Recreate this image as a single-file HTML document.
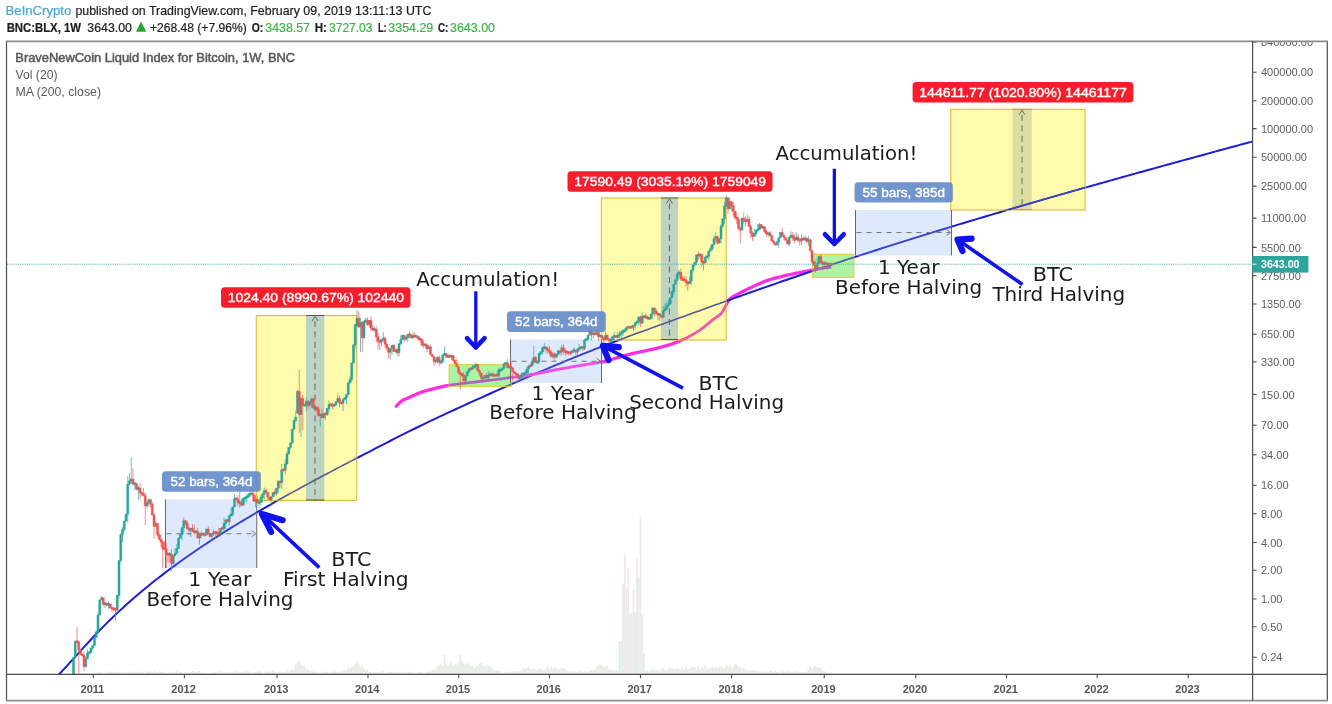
<!DOCTYPE html>
<html lang="en"><head><meta charset="utf-8"><title>BNC:BLX 1W - BeInCrypto on TradingView</title>
<style>
html,body{margin:0;padding:0;background:#fff;}
body{width:1332px;height:704px;overflow:hidden;position:relative;font-family:"Liberation Sans",sans-serif;}
svg{position:absolute;left:0;top:0;display:block;}
.hd{font-family:"Liberation Sans",sans-serif;font-size:11.9px;fill:#1e1e1e;stroke:#1e1e1e;stroke-width:0.2px;}
.b{font-weight:bold;}
.g{fill:#3fb44a;stroke:#3fb44a;}
.ax{font-family:"Liberation Sans",sans-serif;font-size:11px;fill:#5d5d5d;}
.yr{font-family:"Liberation Sans",sans-serif;font-size:11px;font-weight:bold;fill:#555;text-anchor:middle;}
.lg{font-family:"Liberation Sans",sans-serif;font-size:12px;fill:#5a5a5a;}
.an{font-family:"DejaVu Sans","Liberation Sans",sans-serif;font-size:19.7px;fill:#1c1c1c;}
.lb{font-family:"Liberation Sans",sans-serif;font-size:12.5px;fill:#fff;stroke:#fff;stroke-width:0.38px;}
</style></head><body>
<svg width="1332" height="704" viewBox="0 0 1332 704">
<rect x="0" y="0" width="1332" height="704" fill="#ffffff"/>
<text x="5.6" y="14.5" class="hd" textLength="65.7" lengthAdjust="spacingAndGlyphs" style="fill:#4aa6d6;stroke:#4aa6d6">BeInCrypto</text>
<text x="75.4" y="14.5" class="hd" textLength="356" lengthAdjust="spacingAndGlyphs">published on TradingView.com, February 09, 2019 13:11:13 UTC</text>
<text x="6.7" y="31.6" class="hd b" textLength="74.3" lengthAdjust="spacingAndGlyphs">BNC:BLX, 1W</text>
<text x="87.3" y="31.6" class="hd" textLength="44.6" lengthAdjust="spacingAndGlyphs">3643.00</text>
<path d="M136 31.8 L141 21.6 L146.2 31.8 Z" fill="#22a52e"/>
<text x="150" y="31.6" class="hd" textLength="96.7" lengthAdjust="spacingAndGlyphs">+268.48 (+7.96%)</text>
<text x="251.7" y="31.6" class="hd b" textLength="11.6" lengthAdjust="spacingAndGlyphs">O:</text>
<text x="265.3" y="31.6" class="hd g" textLength="44.7" lengthAdjust="spacingAndGlyphs">3438.57</text>
<text x="314.7" y="31.6" class="hd b" textLength="12.2" lengthAdjust="spacingAndGlyphs">H:</text>
<text x="329" y="31.6" class="hd g" textLength="43.5" lengthAdjust="spacingAndGlyphs">3727.03</text>
<text x="378" y="31.6" class="hd b" textLength="8.7" lengthAdjust="spacingAndGlyphs">L:</text>
<text x="388.3" y="31.6" class="hd g" textLength="45" lengthAdjust="spacingAndGlyphs">3354.29</text>
<text x="438" y="31.6" class="hd b" textLength="10.3" lengthAdjust="spacingAndGlyphs">C:</text>
<text x="450" y="31.6" class="hd g" textLength="45" lengthAdjust="spacingAndGlyphs">3643.00</text>
<defs><clipPath id="plot"><rect x="7" y="42" width="1245" height="632"/></clipPath>
<clipPath id="inbox">
<rect x="256.25" y="315.5" width="100.5" height="185"/>
<rect x="601.35" y="198" width="124.9" height="142"/>
<rect x="950.75" y="109.3" width="134.25" height="100.7"/>
<rect x="449.25" y="364.75" width="61.75" height="21.5"/>
<rect x="812.4" y="254.3" width="41.35" height="23"/>
</clipPath>
<clipPath id="inblue">
<rect x="165.5" y="499.5" width="91.25" height="68.5"/>
<rect x="510.5" y="339.5" width="91" height="43.5"/>
<rect x="855.5" y="210" width="96" height="45.5"/>
</clipPath></defs>
<g clip-path="url(#plot)">
<rect x="69.13" y="673.4" width="1.75" height="0.6" fill="#e3eee9"/>
<rect x="70.88" y="673.4" width="1.75" height="0.6" fill="#e3eee9"/>
<rect x="72.63" y="673.4" width="1.75" height="0.6" fill="#f1e6e6"/>
<rect x="74.38" y="673.4" width="1.75" height="0.6" fill="#e3eee9"/>
<rect x="76.13" y="673.4" width="1.75" height="0.6" fill="#f1e6e6"/>
<rect x="77.88" y="673.4" width="1.75" height="0.6" fill="#e3eee9"/>
<rect x="79.63" y="673.4" width="1.75" height="0.6" fill="#e3eee9"/>
<rect x="81.38" y="673.4" width="1.75" height="0.6" fill="#f1e6e6"/>
<rect x="83.13" y="673.4" width="1.75" height="0.6" fill="#e3eee9"/>
<rect x="84.88" y="673.4" width="1.75" height="0.6" fill="#f1e6e6"/>
<rect x="86.63" y="673.4" width="1.75" height="0.6" fill="#e3eee9"/>
<rect x="88.38" y="673.4" width="1.75" height="0.6" fill="#e3eee9"/>
<rect x="90.13" y="673.4" width="1.75" height="0.6" fill="#f1e6e6"/>
<rect x="91.88" y="673.4" width="1.75" height="0.6" fill="#e3eee9"/>
<rect x="93.63" y="673.4" width="1.75" height="0.6" fill="#f1e6e6"/>
<rect x="95.38" y="672.58" width="1.75" height="1.42" fill="#e3eee9"/>
<rect x="97.13" y="672.24" width="1.75" height="1.76" fill="#e3eee9"/>
<rect x="98.88" y="672.08" width="1.75" height="1.92" fill="#f1e6e6"/>
<rect x="100.63" y="672.7" width="1.75" height="1.3" fill="#e3eee9"/>
<rect x="102.38" y="672.78" width="1.75" height="1.22" fill="#f1e6e6"/>
<rect x="104.13" y="672.96" width="1.75" height="1.04" fill="#e3eee9"/>
<rect x="105.88" y="671.81" width="1.75" height="2.19" fill="#e3eee9"/>
<rect x="107.63" y="672.8" width="1.75" height="1.2" fill="#f1e6e6"/>
<rect x="109.38" y="671.3" width="1.75" height="2.7" fill="#e3eee9"/>
<rect x="111.13" y="671.99" width="1.75" height="2.01" fill="#f1e6e6"/>
<rect x="112.88" y="671.86" width="1.75" height="2.14" fill="#e3eee9"/>
<rect x="114.63" y="671.7" width="1.75" height="2.3" fill="#e3eee9"/>
<rect x="116.38" y="672.84" width="1.75" height="1.16" fill="#f1e6e6"/>
<rect x="118.13" y="672.04" width="1.75" height="1.96" fill="#e3eee9"/>
<rect x="119.88" y="672.45" width="1.75" height="1.55" fill="#f1e6e6"/>
<rect x="121.63" y="671.92" width="1.75" height="2.08" fill="#e3eee9"/>
<rect x="123.38" y="672.38" width="1.75" height="1.62" fill="#e3eee9"/>
<rect x="125.13" y="672.9" width="1.75" height="1.1" fill="#f1e6e6"/>
<rect x="126.88" y="671.79" width="1.75" height="2.21" fill="#e3eee9"/>
<rect x="128.63" y="672.22" width="1.75" height="1.78" fill="#f1e6e6"/>
<rect x="130.38" y="672.27" width="1.75" height="1.73" fill="#e3eee9"/>
<rect x="132.13" y="671.28" width="1.75" height="2.72" fill="#e3eee9"/>
<rect x="133.88" y="672.35" width="1.75" height="1.65" fill="#f1e6e6"/>
<rect x="135.63" y="671.58" width="1.75" height="2.42" fill="#e3eee9"/>
<rect x="137.38" y="671.88" width="1.75" height="2.12" fill="#f1e6e6"/>
<rect x="139.13" y="671.76" width="1.75" height="2.24" fill="#e3eee9"/>
<rect x="140.88" y="671.89" width="1.75" height="2.11" fill="#e3eee9"/>
<rect x="142.63" y="672.56" width="1.75" height="1.44" fill="#f1e6e6"/>
<rect x="144.38" y="672.63" width="1.75" height="1.37" fill="#e3eee9"/>
<rect x="146.13" y="671.49" width="1.75" height="2.51" fill="#f1e6e6"/>
<rect x="147.88" y="671.64" width="1.75" height="2.36" fill="#e3eee9"/>
<rect x="149.63" y="671.58" width="1.75" height="2.42" fill="#e3eee9"/>
<rect x="151.38" y="671.92" width="1.75" height="2.08" fill="#f1e6e6"/>
<rect x="153.13" y="670.89" width="1.75" height="3.11" fill="#e3eee9"/>
<rect x="154.88" y="671.88" width="1.75" height="2.12" fill="#f1e6e6"/>
<rect x="156.63" y="672.57" width="1.75" height="1.43" fill="#e3eee9"/>
<rect x="158.38" y="671.21" width="1.75" height="2.79" fill="#e3eee9"/>
<rect x="160.13" y="671.76" width="1.75" height="2.24" fill="#f1e6e6"/>
<rect x="161.88" y="672.03" width="1.75" height="1.97" fill="#e3eee9"/>
<rect x="163.63" y="672.79" width="1.75" height="1.21" fill="#f1e6e6"/>
<rect x="165.38" y="672.81" width="1.75" height="1.19" fill="#e3eee9"/>
<rect x="167.13" y="672.53" width="1.75" height="1.47" fill="#e3eee9"/>
<rect x="168.88" y="672.77" width="1.75" height="1.23" fill="#f1e6e6"/>
<rect x="170.63" y="671.84" width="1.75" height="2.16" fill="#e3eee9"/>
<rect x="172.38" y="672.7" width="1.75" height="1.3" fill="#f1e6e6"/>
<rect x="174.13" y="671.52" width="1.75" height="2.48" fill="#e3eee9"/>
<rect x="175.88" y="671.03" width="1.75" height="2.97" fill="#e3eee9"/>
<rect x="177.63" y="672.42" width="1.75" height="1.58" fill="#f1e6e6"/>
<rect x="179.38" y="671.89" width="1.75" height="2.11" fill="#e3eee9"/>
<rect x="181.13" y="671.74" width="1.75" height="2.26" fill="#f1e6e6"/>
<rect x="182.88" y="672.72" width="1.75" height="1.28" fill="#e3eee9"/>
<rect x="184.63" y="672.44" width="1.75" height="1.56" fill="#e3eee9"/>
<rect x="186.38" y="672.11" width="1.75" height="1.89" fill="#f1e6e6"/>
<rect x="188.13" y="672.84" width="1.75" height="1.16" fill="#e3eee9"/>
<rect x="189.88" y="672.15" width="1.75" height="1.85" fill="#f1e6e6"/>
<rect x="191.63" y="671.02" width="1.75" height="2.98" fill="#e3eee9"/>
<rect x="193.38" y="671.86" width="1.75" height="2.14" fill="#e3eee9"/>
<rect x="195.13" y="672.23" width="1.75" height="1.77" fill="#f1e6e6"/>
<rect x="196.88" y="670.99" width="1.75" height="3.01" fill="#e3eee9"/>
<rect x="198.63" y="671.01" width="1.75" height="2.99" fill="#f1e6e6"/>
<rect x="200.38" y="672.26" width="1.75" height="1.74" fill="#e3eee9"/>
<rect x="202.13" y="672.54" width="1.75" height="1.46" fill="#e3eee9"/>
<rect x="203.88" y="672.98" width="1.75" height="1.02" fill="#f1e6e6"/>
<rect x="205.63" y="672.72" width="1.75" height="1.28" fill="#e3eee9"/>
<rect x="207.38" y="672.65" width="1.75" height="1.35" fill="#f1e6e6"/>
<rect x="209.13" y="673.01" width="1.75" height="0.99" fill="#e3eee9"/>
<rect x="210.88" y="672.73" width="1.75" height="1.27" fill="#e3eee9"/>
<rect x="212.63" y="672.53" width="1.75" height="1.47" fill="#f1e6e6"/>
<rect x="214.38" y="672.2" width="1.75" height="1.8" fill="#e3eee9"/>
<rect x="216.13" y="672.52" width="1.75" height="1.48" fill="#f1e6e6"/>
<rect x="217.88" y="672.55" width="1.75" height="1.45" fill="#e3eee9"/>
<rect x="219.63" y="670.81" width="1.75" height="3.19" fill="#e3eee9"/>
<rect x="221.38" y="672.07" width="1.75" height="1.93" fill="#f1e6e6"/>
<rect x="223.13" y="672.93" width="1.75" height="1.07" fill="#e3eee9"/>
<rect x="224.88" y="672.46" width="1.75" height="1.54" fill="#f1e6e6"/>
<rect x="226.63" y="671.9" width="1.75" height="2.1" fill="#e3eee9"/>
<rect x="228.38" y="672.48" width="1.75" height="1.52" fill="#e3eee9"/>
<rect x="230.13" y="672.32" width="1.75" height="1.68" fill="#f1e6e6"/>
<rect x="231.88" y="672.42" width="1.75" height="1.58" fill="#e3eee9"/>
<rect x="233.63" y="671.47" width="1.75" height="2.53" fill="#f1e6e6"/>
<rect x="235.38" y="671.17" width="1.75" height="2.83" fill="#e3eee9"/>
<rect x="237.13" y="672.49" width="1.75" height="1.51" fill="#e3eee9"/>
<rect x="238.88" y="672.33" width="1.75" height="1.67" fill="#f1e6e6"/>
<rect x="240.63" y="671.66" width="1.75" height="2.34" fill="#e3eee9"/>
<rect x="242.38" y="672.51" width="1.75" height="1.49" fill="#f1e6e6"/>
<rect x="244.13" y="670.9" width="1.75" height="3.1" fill="#e3eee9"/>
<rect x="245.88" y="671.04" width="1.75" height="2.96" fill="#e3eee9"/>
<rect x="247.63" y="671.19" width="1.75" height="2.81" fill="#f1e6e6"/>
<rect x="249.38" y="672.42" width="1.75" height="1.58" fill="#e3eee9"/>
<rect x="251.13" y="672.65" width="1.75" height="1.35" fill="#f1e6e6"/>
<rect x="252.88" y="672.89" width="1.75" height="1.11" fill="#e3eee9"/>
<rect x="254.63" y="672.23" width="1.75" height="1.77" fill="#e3eee9"/>
<rect x="256.38" y="671.34" width="1.75" height="2.66" fill="#f1e6e6"/>
<rect x="258.13" y="670.64" width="1.75" height="3.36" fill="#e3eee9"/>
<rect x="259.88" y="671.46" width="1.75" height="2.54" fill="#f1e6e6"/>
<rect x="261.63" y="672.66" width="1.75" height="1.34" fill="#e3eee9"/>
<rect x="263.38" y="672.71" width="1.75" height="1.29" fill="#e3eee9"/>
<rect x="265.13" y="671.36" width="1.75" height="2.64" fill="#f1e6e6"/>
<rect x="266.88" y="671.48" width="1.75" height="2.52" fill="#e3eee9"/>
<rect x="268.63" y="671.42" width="1.75" height="2.58" fill="#f1e6e6"/>
<rect x="270.38" y="672.56" width="1.75" height="1.44" fill="#e3eee9"/>
<rect x="272.13" y="670.97" width="1.75" height="3.03" fill="#e3eee9"/>
<rect x="273.88" y="671.63" width="1.75" height="2.37" fill="#f1e6e6"/>
<rect x="275.63" y="672.3" width="1.75" height="1.7" fill="#e3eee9"/>
<rect x="277.38" y="672.01" width="1.75" height="1.99" fill="#f1e6e6"/>
<rect x="279.13" y="671.39" width="1.75" height="2.61" fill="#e3eee9"/>
<rect x="280.88" y="671.73" width="1.75" height="2.27" fill="#e3eee9"/>
<rect x="282.63" y="672" width="1.75" height="2" fill="#f1e6e6"/>
<rect x="284.38" y="672.75" width="1.75" height="1.25" fill="#e3eee9"/>
<rect x="286.13" y="670.62" width="1.75" height="3.38" fill="#f1e6e6"/>
<rect x="287.88" y="671.54" width="1.75" height="2.46" fill="#e3eee9"/>
<rect x="289.63" y="669.47" width="1.75" height="4.53" fill="#e3eee9"/>
<rect x="291.38" y="669.49" width="1.75" height="4.51" fill="#f1e6e6"/>
<rect x="293.13" y="669.66" width="1.75" height="4.34" fill="#e3eee9"/>
<rect x="294.88" y="664.35" width="1.75" height="9.65" fill="#f1e6e6"/>
<rect x="296.63" y="661.87" width="1.75" height="12.13" fill="#e3eee9"/>
<rect x="298.38" y="661.2" width="1.75" height="12.8" fill="#e3eee9"/>
<rect x="300.13" y="664.3" width="1.75" height="9.7" fill="#f1e6e6"/>
<rect x="301.88" y="665.65" width="1.75" height="8.35" fill="#e3eee9"/>
<rect x="303.63" y="666.14" width="1.75" height="7.86" fill="#f1e6e6"/>
<rect x="305.38" y="668.56" width="1.75" height="5.44" fill="#e3eee9"/>
<rect x="307.13" y="669.36" width="1.75" height="4.64" fill="#e3eee9"/>
<rect x="308.88" y="671" width="1.75" height="3" fill="#f1e6e6"/>
<rect x="310.63" y="670.71" width="1.75" height="3.29" fill="#e3eee9"/>
<rect x="312.38" y="671.43" width="1.75" height="2.57" fill="#f1e6e6"/>
<rect x="314.13" y="671.87" width="1.75" height="2.13" fill="#e3eee9"/>
<rect x="315.88" y="672.43" width="1.75" height="1.57" fill="#e3eee9"/>
<rect x="317.63" y="672.39" width="1.75" height="1.61" fill="#f1e6e6"/>
<rect x="319.38" y="672.61" width="1.75" height="1.39" fill="#e3eee9"/>
<rect x="321.13" y="672.54" width="1.75" height="1.46" fill="#f1e6e6"/>
<rect x="322.88" y="671.57" width="1.75" height="2.43" fill="#e3eee9"/>
<rect x="324.63" y="672.26" width="1.75" height="1.74" fill="#e3eee9"/>
<rect x="326.38" y="671.61" width="1.75" height="2.39" fill="#f1e6e6"/>
<rect x="328.13" y="672.59" width="1.75" height="1.41" fill="#e3eee9"/>
<rect x="329.88" y="672.58" width="1.75" height="1.42" fill="#f1e6e6"/>
<rect x="331.63" y="671.55" width="1.75" height="2.45" fill="#e3eee9"/>
<rect x="333.38" y="671.62" width="1.75" height="2.38" fill="#e3eee9"/>
<rect x="335.13" y="671.4" width="1.75" height="2.6" fill="#f1e6e6"/>
<rect x="336.88" y="671.77" width="1.75" height="2.23" fill="#e3eee9"/>
<rect x="338.63" y="671.66" width="1.75" height="2.34" fill="#f1e6e6"/>
<rect x="340.38" y="671.77" width="1.75" height="2.23" fill="#e3eee9"/>
<rect x="342.13" y="670.9" width="1.75" height="3.1" fill="#e3eee9"/>
<rect x="343.88" y="669.93" width="1.75" height="4.07" fill="#f1e6e6"/>
<rect x="345.63" y="669.9" width="1.75" height="4.1" fill="#e3eee9"/>
<rect x="347.38" y="667.62" width="1.75" height="6.38" fill="#f1e6e6"/>
<rect x="349.13" y="668.19" width="1.75" height="5.81" fill="#e3eee9"/>
<rect x="350.88" y="666.79" width="1.75" height="7.21" fill="#e3eee9"/>
<rect x="352.63" y="666.54" width="1.75" height="7.46" fill="#f1e6e6"/>
<rect x="354.38" y="663.97" width="1.75" height="10.03" fill="#e3eee9"/>
<rect x="356.13" y="661.62" width="1.75" height="12.38" fill="#f1e6e6"/>
<rect x="357.88" y="664.52" width="1.75" height="9.48" fill="#e3eee9"/>
<rect x="359.63" y="667.36" width="1.75" height="6.64" fill="#e3eee9"/>
<rect x="361.38" y="665.42" width="1.75" height="8.58" fill="#f1e6e6"/>
<rect x="363.13" y="668.49" width="1.75" height="5.51" fill="#e3eee9"/>
<rect x="364.88" y="670.37" width="1.75" height="3.63" fill="#f1e6e6"/>
<rect x="366.63" y="669.57" width="1.75" height="4.43" fill="#e3eee9"/>
<rect x="368.38" y="672.09" width="1.75" height="1.91" fill="#e3eee9"/>
<rect x="370.13" y="671.92" width="1.75" height="2.08" fill="#f1e6e6"/>
<rect x="371.88" y="672.53" width="1.75" height="1.47" fill="#e3eee9"/>
<rect x="373.63" y="672.18" width="1.75" height="1.82" fill="#f1e6e6"/>
<rect x="375.38" y="671.96" width="1.75" height="2.04" fill="#e3eee9"/>
<rect x="377.13" y="672.87" width="1.75" height="1.13" fill="#e3eee9"/>
<rect x="378.88" y="671.79" width="1.75" height="2.21" fill="#f1e6e6"/>
<rect x="380.63" y="672.38" width="1.75" height="1.62" fill="#e3eee9"/>
<rect x="382.38" y="670.96" width="1.75" height="3.04" fill="#f1e6e6"/>
<rect x="384.13" y="672.79" width="1.75" height="1.21" fill="#e3eee9"/>
<rect x="385.88" y="672.56" width="1.75" height="1.44" fill="#e3eee9"/>
<rect x="387.63" y="672.67" width="1.75" height="1.33" fill="#f1e6e6"/>
<rect x="389.38" y="671.74" width="1.75" height="2.26" fill="#e3eee9"/>
<rect x="391.13" y="671.79" width="1.75" height="2.21" fill="#f1e6e6"/>
<rect x="392.88" y="672.26" width="1.75" height="1.74" fill="#e3eee9"/>
<rect x="394.63" y="671.68" width="1.75" height="2.32" fill="#e3eee9"/>
<rect x="396.38" y="672.95" width="1.75" height="1.05" fill="#f1e6e6"/>
<rect x="398.13" y="671.78" width="1.75" height="2.22" fill="#e3eee9"/>
<rect x="399.88" y="672.4" width="1.75" height="1.6" fill="#f1e6e6"/>
<rect x="401.63" y="671.45" width="1.75" height="2.55" fill="#e3eee9"/>
<rect x="403.38" y="672.43" width="1.75" height="1.57" fill="#e3eee9"/>
<rect x="405.13" y="672.46" width="1.75" height="1.54" fill="#f1e6e6"/>
<rect x="406.88" y="672.23" width="1.75" height="1.77" fill="#e3eee9"/>
<rect x="408.63" y="671.47" width="1.75" height="2.53" fill="#f1e6e6"/>
<rect x="410.38" y="672.67" width="1.75" height="1.33" fill="#e3eee9"/>
<rect x="412.13" y="672.22" width="1.75" height="1.78" fill="#e3eee9"/>
<rect x="413.88" y="672.86" width="1.75" height="1.14" fill="#f1e6e6"/>
<rect x="415.63" y="672.91" width="1.75" height="1.09" fill="#e3eee9"/>
<rect x="417.38" y="672.46" width="1.75" height="1.54" fill="#f1e6e6"/>
<rect x="419.13" y="671.83" width="1.75" height="2.17" fill="#e3eee9"/>
<rect x="420.88" y="672.3" width="1.75" height="1.7" fill="#e3eee9"/>
<rect x="422.63" y="672.61" width="1.75" height="1.39" fill="#f1e6e6"/>
<rect x="424.38" y="672.68" width="1.75" height="1.32" fill="#e3eee9"/>
<rect x="426.13" y="671.28" width="1.75" height="2.72" fill="#f1e6e6"/>
<rect x="427.88" y="672.01" width="1.75" height="1.99" fill="#e3eee9"/>
<rect x="429.63" y="671.13" width="1.75" height="2.87" fill="#e3eee9"/>
<rect x="431.38" y="670.21" width="1.75" height="3.79" fill="#f1e6e6"/>
<rect x="433.13" y="669.16" width="1.75" height="4.84" fill="#e3eee9"/>
<rect x="434.88" y="669.07" width="1.75" height="4.93" fill="#f1e6e6"/>
<rect x="436.63" y="665.96" width="1.75" height="8.04" fill="#e3eee9"/>
<rect x="438.38" y="665.74" width="1.75" height="8.26" fill="#e3eee9"/>
<rect x="440.13" y="664.63" width="1.75" height="9.37" fill="#f1e6e6"/>
<rect x="441.88" y="665.48" width="1.75" height="8.52" fill="#e3eee9"/>
<rect x="443.63" y="655" width="1.75" height="19" fill="#f1e6e6"/>
<rect x="445.38" y="663.13" width="1.75" height="10.87" fill="#e3eee9"/>
<rect x="447.13" y="665.63" width="1.75" height="8.37" fill="#e3eee9"/>
<rect x="448.88" y="662.68" width="1.75" height="11.32" fill="#f1e6e6"/>
<rect x="450.63" y="662.35" width="1.75" height="11.65" fill="#e3eee9"/>
<rect x="452.38" y="665.6" width="1.75" height="8.4" fill="#f1e6e6"/>
<rect x="454.13" y="664.55" width="1.75" height="9.45" fill="#e3eee9"/>
<rect x="455.88" y="664.69" width="1.75" height="9.31" fill="#e3eee9"/>
<rect x="457.63" y="661.68" width="1.75" height="12.32" fill="#f1e6e6"/>
<rect x="459.38" y="655" width="1.75" height="19" fill="#e3eee9"/>
<rect x="461.13" y="660.96" width="1.75" height="13.04" fill="#f1e6e6"/>
<rect x="462.88" y="663.94" width="1.75" height="10.06" fill="#e3eee9"/>
<rect x="464.63" y="664.3" width="1.75" height="9.7" fill="#e3eee9"/>
<rect x="466.38" y="663.16" width="1.75" height="10.84" fill="#f1e6e6"/>
<rect x="468.13" y="664.03" width="1.75" height="9.97" fill="#e3eee9"/>
<rect x="469.88" y="666" width="1.75" height="8" fill="#f1e6e6"/>
<rect x="471.63" y="665.81" width="1.75" height="8.19" fill="#e3eee9"/>
<rect x="473.38" y="667.86" width="1.75" height="6.14" fill="#e3eee9"/>
<rect x="475.13" y="666.87" width="1.75" height="7.13" fill="#f1e6e6"/>
<rect x="476.88" y="665.17" width="1.75" height="8.83" fill="#e3eee9"/>
<rect x="478.63" y="664.05" width="1.75" height="9.95" fill="#f1e6e6"/>
<rect x="480.38" y="662.7" width="1.75" height="11.3" fill="#e3eee9"/>
<rect x="482.13" y="665.62" width="1.75" height="8.38" fill="#e3eee9"/>
<rect x="483.88" y="665.75" width="1.75" height="8.25" fill="#f1e6e6"/>
<rect x="485.63" y="664.35" width="1.75" height="9.65" fill="#e3eee9"/>
<rect x="487.38" y="665.91" width="1.75" height="8.09" fill="#f1e6e6"/>
<rect x="489.13" y="666.49" width="1.75" height="7.51" fill="#e3eee9"/>
<rect x="490.88" y="667.58" width="1.75" height="6.42" fill="#e3eee9"/>
<rect x="492.63" y="670.45" width="1.75" height="3.55" fill="#f1e6e6"/>
<rect x="494.38" y="670.2" width="1.75" height="3.8" fill="#e3eee9"/>
<rect x="496.13" y="670.31" width="1.75" height="3.69" fill="#f1e6e6"/>
<rect x="497.88" y="671.04" width="1.75" height="2.96" fill="#e3eee9"/>
<rect x="499.63" y="671.31" width="1.75" height="2.69" fill="#e3eee9"/>
<rect x="501.38" y="672.75" width="1.75" height="1.25" fill="#f1e6e6"/>
<rect x="503.13" y="672.66" width="1.75" height="1.34" fill="#e3eee9"/>
<rect x="504.88" y="672.38" width="1.75" height="1.62" fill="#f1e6e6"/>
<rect x="506.63" y="671.74" width="1.75" height="2.26" fill="#e3eee9"/>
<rect x="508.38" y="671.54" width="1.75" height="2.46" fill="#e3eee9"/>
<rect x="510.13" y="672.43" width="1.75" height="1.57" fill="#f1e6e6"/>
<rect x="511.88" y="670.99" width="1.75" height="3.01" fill="#e3eee9"/>
<rect x="513.63" y="671.59" width="1.75" height="2.41" fill="#f1e6e6"/>
<rect x="515.38" y="671.76" width="1.75" height="2.24" fill="#e3eee9"/>
<rect x="517.13" y="671.08" width="1.75" height="2.92" fill="#e3eee9"/>
<rect x="518.88" y="671.59" width="1.75" height="2.41" fill="#f1e6e6"/>
<rect x="520.63" y="670.31" width="1.75" height="3.69" fill="#e3eee9"/>
<rect x="522.38" y="667.88" width="1.75" height="6.12" fill="#f1e6e6"/>
<rect x="524.13" y="669.16" width="1.75" height="4.84" fill="#e3eee9"/>
<rect x="525.88" y="667.85" width="1.75" height="6.15" fill="#e3eee9"/>
<rect x="527.63" y="667.17" width="1.75" height="6.83" fill="#f1e6e6"/>
<rect x="529.38" y="668.95" width="1.75" height="5.05" fill="#e3eee9"/>
<rect x="531.13" y="669.13" width="1.75" height="4.87" fill="#f1e6e6"/>
<rect x="532.88" y="668.35" width="1.75" height="5.65" fill="#e3eee9"/>
<rect x="534.63" y="669.74" width="1.75" height="4.26" fill="#e3eee9"/>
<rect x="536.38" y="670.05" width="1.75" height="3.95" fill="#f1e6e6"/>
<rect x="538.13" y="668.37" width="1.75" height="5.63" fill="#e3eee9"/>
<rect x="539.88" y="669.56" width="1.75" height="4.44" fill="#f1e6e6"/>
<rect x="541.63" y="669.42" width="1.75" height="4.58" fill="#e3eee9"/>
<rect x="543.38" y="670.21" width="1.75" height="3.79" fill="#e3eee9"/>
<rect x="545.13" y="669.25" width="1.75" height="4.75" fill="#f1e6e6"/>
<rect x="546.88" y="666.7" width="1.75" height="7.3" fill="#e3eee9"/>
<rect x="548.63" y="669.35" width="1.75" height="4.65" fill="#f1e6e6"/>
<rect x="550.38" y="666.25" width="1.75" height="7.75" fill="#e3eee9"/>
<rect x="552.13" y="668.82" width="1.75" height="5.18" fill="#e3eee9"/>
<rect x="553.88" y="667.22" width="1.75" height="6.78" fill="#f1e6e6"/>
<rect x="555.63" y="668.28" width="1.75" height="5.72" fill="#e3eee9"/>
<rect x="557.38" y="668.72" width="1.75" height="5.28" fill="#f1e6e6"/>
<rect x="559.13" y="668.9" width="1.75" height="5.1" fill="#e3eee9"/>
<rect x="560.88" y="668.29" width="1.75" height="5.71" fill="#e3eee9"/>
<rect x="562.63" y="668.07" width="1.75" height="5.93" fill="#f1e6e6"/>
<rect x="564.38" y="669.31" width="1.75" height="4.69" fill="#e3eee9"/>
<rect x="566.13" y="671.03" width="1.75" height="2.97" fill="#f1e6e6"/>
<rect x="567.88" y="671.28" width="1.75" height="2.72" fill="#e3eee9"/>
<rect x="569.63" y="671.21" width="1.75" height="2.79" fill="#e3eee9"/>
<rect x="571.38" y="671.88" width="1.75" height="2.12" fill="#f1e6e6"/>
<rect x="573.13" y="671.26" width="1.75" height="2.74" fill="#e3eee9"/>
<rect x="574.88" y="672.14" width="1.75" height="1.86" fill="#f1e6e6"/>
<rect x="576.63" y="671.69" width="1.75" height="2.31" fill="#e3eee9"/>
<rect x="578.38" y="670.78" width="1.75" height="3.22" fill="#e3eee9"/>
<rect x="580.13" y="671.48" width="1.75" height="2.52" fill="#f1e6e6"/>
<rect x="581.88" y="672.13" width="1.75" height="1.87" fill="#e3eee9"/>
<rect x="583.63" y="670.82" width="1.75" height="3.18" fill="#f1e6e6"/>
<rect x="585.38" y="671.9" width="1.75" height="2.1" fill="#e3eee9"/>
<rect x="587.13" y="672.22" width="1.75" height="1.78" fill="#e3eee9"/>
<rect x="588.88" y="671.18" width="1.75" height="2.82" fill="#f1e6e6"/>
<rect x="590.63" y="670.01" width="1.75" height="3.99" fill="#e3eee9"/>
<rect x="592.38" y="670.52" width="1.75" height="3.48" fill="#f1e6e6"/>
<rect x="594.13" y="669.6" width="1.75" height="4.4" fill="#e3eee9"/>
<rect x="595.88" y="666.78" width="1.75" height="7.22" fill="#e3eee9"/>
<rect x="597.63" y="665.28" width="1.75" height="8.72" fill="#f1e6e6"/>
<rect x="599.38" y="664.58" width="1.75" height="9.42" fill="#e3eee9"/>
<rect x="601.13" y="665.1" width="1.75" height="8.9" fill="#f1e6e6"/>
<rect x="602.88" y="667.52" width="1.75" height="6.48" fill="#e3eee9"/>
<rect x="604.63" y="666.14" width="1.75" height="7.86" fill="#e3eee9"/>
<rect x="606.38" y="665.98" width="1.75" height="8.02" fill="#f1e6e6"/>
<rect x="608.13" y="669.42" width="1.75" height="4.58" fill="#e3eee9"/>
<rect x="609.88" y="669.07" width="1.75" height="4.93" fill="#f1e6e6"/>
<rect x="611.63" y="669.86" width="1.75" height="4.14" fill="#e3eee9"/>
<rect x="613.38" y="670.1" width="1.75" height="3.9" fill="#e3eee9"/>
<rect x="615.13" y="670.47" width="1.75" height="3.53" fill="#f1e6e6"/>
<rect x="616.88" y="671.22" width="1.75" height="2.78" fill="#e3eee9"/>
<rect x="618.63" y="641" width="1.75" height="33" fill="#f1e6e6"/>
<rect x="620.38" y="641" width="1.75" height="33" fill="#e3eee9"/>
<rect x="622.13" y="584" width="1.75" height="90" fill="#e3eee9"/>
<rect x="623.88" y="555" width="1.75" height="119" fill="#f1e6e6"/>
<rect x="625.63" y="589" width="1.75" height="85" fill="#e3eee9"/>
<rect x="627.38" y="569" width="1.75" height="105" fill="#f1e6e6"/>
<rect x="629.13" y="614" width="1.75" height="60" fill="#e3eee9"/>
<rect x="630.88" y="613" width="1.75" height="61" fill="#e3eee9"/>
<rect x="632.63" y="589" width="1.75" height="85" fill="#f1e6e6"/>
<rect x="634.38" y="612" width="1.75" height="62" fill="#e3eee9"/>
<rect x="636.13" y="559" width="1.75" height="115" fill="#f1e6e6"/>
<rect x="637.88" y="577" width="1.75" height="97" fill="#e3eee9"/>
<rect x="639.63" y="517" width="1.75" height="157" fill="#e3eee9"/>
<rect x="641.38" y="615" width="1.75" height="59" fill="#f1e6e6"/>
<rect x="643.13" y="654" width="1.75" height="20" fill="#e3eee9"/>
<rect x="644.88" y="670.74" width="1.75" height="3.26" fill="#f1e6e6"/>
<rect x="646.63" y="670.8" width="1.75" height="3.2" fill="#e3eee9"/>
<rect x="648.38" y="671.47" width="1.75" height="2.53" fill="#e3eee9"/>
<rect x="650.13" y="670.87" width="1.75" height="3.13" fill="#f1e6e6"/>
<rect x="651.88" y="669.04" width="1.75" height="4.96" fill="#e3eee9"/>
<rect x="653.63" y="670.79" width="1.75" height="3.21" fill="#f1e6e6"/>
<rect x="655.38" y="670.69" width="1.75" height="3.31" fill="#e3eee9"/>
<rect x="657.13" y="669.54" width="1.75" height="4.46" fill="#e3eee9"/>
<rect x="658.88" y="670.88" width="1.75" height="3.12" fill="#f1e6e6"/>
<rect x="660.63" y="669.16" width="1.75" height="4.84" fill="#e3eee9"/>
<rect x="662.38" y="668.31" width="1.75" height="5.69" fill="#f1e6e6"/>
<rect x="664.13" y="669.44" width="1.75" height="4.56" fill="#e3eee9"/>
<rect x="665.88" y="670.71" width="1.75" height="3.29" fill="#e3eee9"/>
<rect x="667.63" y="668.77" width="1.75" height="5.23" fill="#f1e6e6"/>
<rect x="669.38" y="667.76" width="1.75" height="6.24" fill="#e3eee9"/>
<rect x="671.13" y="668.01" width="1.75" height="5.99" fill="#f1e6e6"/>
<rect x="672.88" y="668.73" width="1.75" height="5.27" fill="#e3eee9"/>
<rect x="674.63" y="668.74" width="1.75" height="5.26" fill="#e3eee9"/>
<rect x="676.38" y="667.88" width="1.75" height="6.12" fill="#f1e6e6"/>
<rect x="678.13" y="668.72" width="1.75" height="5.28" fill="#e3eee9"/>
<rect x="679.88" y="669.49" width="1.75" height="4.51" fill="#f1e6e6"/>
<rect x="681.63" y="667.31" width="1.75" height="6.69" fill="#e3eee9"/>
<rect x="683.38" y="669.79" width="1.75" height="4.21" fill="#e3eee9"/>
<rect x="685.13" y="667.62" width="1.75" height="6.38" fill="#f1e6e6"/>
<rect x="686.88" y="668.83" width="1.75" height="5.17" fill="#e3eee9"/>
<rect x="688.63" y="669.15" width="1.75" height="4.85" fill="#f1e6e6"/>
<rect x="690.38" y="668.1" width="1.75" height="5.9" fill="#e3eee9"/>
<rect x="692.13" y="666.36" width="1.75" height="7.64" fill="#e3eee9"/>
<rect x="693.88" y="667.03" width="1.75" height="6.97" fill="#f1e6e6"/>
<rect x="695.63" y="668.72" width="1.75" height="5.28" fill="#e3eee9"/>
<rect x="697.38" y="666.03" width="1.75" height="7.97" fill="#f1e6e6"/>
<rect x="699.13" y="669.28" width="1.75" height="4.72" fill="#e3eee9"/>
<rect x="700.88" y="666.93" width="1.75" height="7.07" fill="#e3eee9"/>
<rect x="702.63" y="668.41" width="1.75" height="5.59" fill="#f1e6e6"/>
<rect x="704.38" y="665.83" width="1.75" height="8.17" fill="#e3eee9"/>
<rect x="706.13" y="669.39" width="1.75" height="4.61" fill="#f1e6e6"/>
<rect x="707.88" y="668.08" width="1.75" height="5.92" fill="#e3eee9"/>
<rect x="709.63" y="668.32" width="1.75" height="5.68" fill="#e3eee9"/>
<rect x="711.38" y="666.31" width="1.75" height="7.69" fill="#f1e6e6"/>
<rect x="713.13" y="668.54" width="1.75" height="5.46" fill="#e3eee9"/>
<rect x="714.88" y="667.49" width="1.75" height="6.51" fill="#f1e6e6"/>
<rect x="716.63" y="667.93" width="1.75" height="6.07" fill="#e3eee9"/>
<rect x="718.38" y="667.05" width="1.75" height="6.95" fill="#e3eee9"/>
<rect x="720.13" y="666.16" width="1.75" height="7.84" fill="#f1e6e6"/>
<rect x="721.88" y="668.2" width="1.75" height="5.8" fill="#e3eee9"/>
<rect x="723.63" y="667.66" width="1.75" height="6.34" fill="#f1e6e6"/>
<rect x="725.38" y="664.82" width="1.75" height="9.18" fill="#e3eee9"/>
<rect x="727.13" y="667.54" width="1.75" height="6.46" fill="#e3eee9"/>
<rect x="728.88" y="665.27" width="1.75" height="8.73" fill="#f1e6e6"/>
<rect x="730.63" y="668.57" width="1.75" height="5.43" fill="#e3eee9"/>
<rect x="732.38" y="667.51" width="1.75" height="6.49" fill="#f1e6e6"/>
<rect x="734.13" y="664.35" width="1.75" height="9.65" fill="#e3eee9"/>
<rect x="735.88" y="664.46" width="1.75" height="9.54" fill="#e3eee9"/>
<rect x="737.63" y="666.98" width="1.75" height="7.02" fill="#f1e6e6"/>
<rect x="739.38" y="666.54" width="1.75" height="7.46" fill="#e3eee9"/>
<rect x="741.13" y="668.93" width="1.75" height="5.07" fill="#f1e6e6"/>
<rect x="742.88" y="668.33" width="1.75" height="5.67" fill="#e3eee9"/>
<rect x="744.63" y="669.3" width="1.75" height="4.7" fill="#e3eee9"/>
<rect x="746.38" y="670.72" width="1.75" height="3.28" fill="#f1e6e6"/>
<rect x="748.13" y="670.18" width="1.75" height="3.82" fill="#e3eee9"/>
<rect x="749.88" y="670.07" width="1.75" height="3.93" fill="#f1e6e6"/>
<rect x="751.63" y="670.14" width="1.75" height="3.86" fill="#e3eee9"/>
<rect x="753.38" y="670.2" width="1.75" height="3.8" fill="#e3eee9"/>
<rect x="755.13" y="670.34" width="1.75" height="3.66" fill="#f1e6e6"/>
<rect x="756.88" y="671.67" width="1.75" height="2.33" fill="#e3eee9"/>
<rect x="758.63" y="670.71" width="1.75" height="3.29" fill="#f1e6e6"/>
<rect x="760.38" y="671.85" width="1.75" height="2.15" fill="#e3eee9"/>
<rect x="762.13" y="671.46" width="1.75" height="2.54" fill="#e3eee9"/>
<rect x="763.88" y="671.16" width="1.75" height="2.84" fill="#f1e6e6"/>
<rect x="765.63" y="671.73" width="1.75" height="2.27" fill="#e3eee9"/>
<rect x="767.38" y="672.66" width="1.75" height="1.34" fill="#f1e6e6"/>
<rect x="769.13" y="671.3" width="1.75" height="2.7" fill="#e3eee9"/>
<rect x="770.88" y="670.7" width="1.75" height="3.3" fill="#e3eee9"/>
<rect x="772.63" y="672.18" width="1.75" height="1.82" fill="#f1e6e6"/>
<rect x="774.38" y="670.82" width="1.75" height="3.18" fill="#e3eee9"/>
<rect x="776.13" y="671.94" width="1.75" height="2.06" fill="#f1e6e6"/>
<rect x="777.88" y="672.3" width="1.75" height="1.7" fill="#e3eee9"/>
<rect x="779.63" y="672.43" width="1.75" height="1.57" fill="#e3eee9"/>
<rect x="781.38" y="670.98" width="1.75" height="3.02" fill="#f1e6e6"/>
<rect x="783.13" y="671.83" width="1.75" height="2.17" fill="#e3eee9"/>
<rect x="784.88" y="672.33" width="1.75" height="1.67" fill="#f1e6e6"/>
<rect x="786.63" y="670.52" width="1.75" height="3.48" fill="#e3eee9"/>
<rect x="788.38" y="672.33" width="1.75" height="1.67" fill="#e3eee9"/>
<rect x="790.13" y="672.04" width="1.75" height="1.96" fill="#f1e6e6"/>
<rect x="791.88" y="671.69" width="1.75" height="2.31" fill="#e3eee9"/>
<rect x="793.63" y="671.16" width="1.75" height="2.84" fill="#f1e6e6"/>
<rect x="795.38" y="671.09" width="1.75" height="2.91" fill="#e3eee9"/>
<rect x="797.13" y="671.98" width="1.75" height="2.02" fill="#e3eee9"/>
<rect x="798.88" y="672.37" width="1.75" height="1.63" fill="#f1e6e6"/>
<rect x="800.63" y="672.01" width="1.75" height="1.99" fill="#e3eee9"/>
<rect x="802.38" y="672.12" width="1.75" height="1.88" fill="#f1e6e6"/>
<rect x="804.13" y="672.44" width="1.75" height="1.56" fill="#e3eee9"/>
<rect x="805.88" y="671.77" width="1.75" height="2.23" fill="#e3eee9"/>
<rect x="807.63" y="669.55" width="1.75" height="4.45" fill="#f1e6e6"/>
<rect x="809.38" y="666.75" width="1.75" height="7.25" fill="#e3eee9"/>
<rect x="811.13" y="669.01" width="1.75" height="4.99" fill="#f1e6e6"/>
<rect x="812.88" y="666.9" width="1.75" height="7.1" fill="#e3eee9"/>
<rect x="814.63" y="665.92" width="1.75" height="8.08" fill="#e3eee9"/>
<rect x="816.38" y="667.49" width="1.75" height="6.51" fill="#f1e6e6"/>
<rect x="818.13" y="667.43" width="1.75" height="6.57" fill="#e3eee9"/>
<rect x="819.88" y="668.37" width="1.75" height="5.63" fill="#f1e6e6"/>
<rect x="821.63" y="671.14" width="1.75" height="2.86" fill="#e3eee9"/>
<rect x="823.38" y="671.22" width="1.75" height="2.78" fill="#e3eee9"/>
<rect x="825.13" y="671.83" width="1.75" height="2.17" fill="#f1e6e6"/>
<rect x="826.88" y="671.92" width="1.75" height="2.08" fill="#e3eee9"/>
<rect x="828.63" y="672.59" width="1.75" height="1.41" fill="#f1e6e6"/>
<rect x="830.38" y="672.27" width="1.75" height="1.73" fill="#e3eee9"/>
<path d="M396.25 406.25 L398.25 404.04 L400.25 402.12 L402.25 400.64 L404.25 399.56 L406.25 398.67 L408.25 397.86 L410.25 397.02 L412.25 396.1 L414.25 395.16 L416.25 394.23 L418.25 393.35 L420.25 392.57 L422.25 391.88 L424.25 391.26 L426.25 390.69 L428.25 390.14 L430.25 389.63 L432.25 389.13 L434.25 388.63 L436.25 388.14 L438.25 387.64 L440.25 387.15 L442.25 386.66 L444.25 386.21 L446.25 385.78 L448.25 385.4 L450.25 385.06 L452.25 384.75 L454.25 384.46 L456.25 384.19 L458.25 383.94 L460.25 383.69 L462.25 383.46 L464.25 383.23 L466.25 383.01 L468.25 382.79 L470.25 382.57 L472.25 382.35 L474.25 382.12 L476.25 381.89 L478.25 381.64 L480.25 381.4 L482.25 381.15 L484.25 380.9 L486.25 380.66 L488.25 380.41 L490.25 380.17 L492.25 379.92 L494.25 379.67 L496.25 379.43 L498.25 379.18 L500.25 378.93 L502.25 378.67 L504.25 378.42 L506.25 378.16 L508.25 377.9 L510.25 377.63 L512.25 377.37 L514.25 377.1 L516.25 376.84 L518.25 376.57 L520.25 376.3 L522.25 376.02 L524.25 375.73 L526.25 375.43 L528.25 375.12 L530.25 374.79 L532.25 374.45 L534.25 374.09 L536.25 373.71 L538.25 373.32 L540.25 372.92 L542.25 372.51 L544.25 372.1 L546.25 371.69 L548.25 371.28 L550.25 370.87 L552.25 370.47 L554.25 370.08 L556.25 369.7 L558.25 369.33 L560.25 368.97 L562.25 368.6 L564.25 368.24 L566.25 367.89 L568.25 367.53 L570.25 367.18 L572.25 366.83 L574.25 366.48 L576.25 366.13 L578.25 365.79 L580.25 365.44 L582.25 365.1 L584.25 364.76 L586.25 364.43 L588.25 364.11 L590.25 363.8 L592.25 363.5 L594.25 363.2 L596.25 362.88 L598.25 362.55 L600.25 362.2 L602.25 361.81 L604.25 361.38 L606.25 360.9 L608.25 360.38 L610.25 359.82 L612.25 359.24 L614.25 358.64 L616.25 358.03 L618.25 357.42 L620.25 356.81 L622.25 356.22 L624.25 355.64 L626.25 355.1 L628.25 354.59 L630.25 354.1 L632.25 353.64 L634.25 353.19 L636.25 352.74 L638.25 352.31 L640.25 351.89 L642.25 351.46 L644.25 351.04 L646.25 350.61 L648.25 350.17 L650.25 349.73 L652.25 349.27 L654.25 348.79 L656.25 348.3 L658.25 347.79 L660.25 347.28 L662.25 346.76 L664.25 346.23 L666.25 345.67 L668.25 345.09 L670.25 344.48 L672.25 343.83 L674.25 343.13 L676.25 342.35 L678.25 341.52 L680.25 340.66 L682.25 339.78 L684.25 338.86 L686.25 337.91 L688.25 336.91 L690.25 335.87 L692.25 334.78 L694.25 333.63 L696.25 332.43 L698.25 331.16 L700.25 329.83 L702.25 328.38 L704.25 326.81 L706.25 325.17 L708.25 323.49 L710.25 321.82 L712.25 320.18 L714.25 318.65 L716.25 317.33 L718.25 316.03 L720.25 314.45 L722.25 312.19 L724.25 308.41 L726.25 304.58 L728.25 300.97 L730.25 298.62 L732.25 297.13 L734.25 295.96 L736.25 294.92 L738.25 293.83 L740.25 292.75 L742.25 291.72 L744.25 290.72 L746.25 289.75 L748.25 288.81 L750.25 287.88 L752.25 286.96 L754.25 286.03 L756.25 285.1 L758.25 284.18 L760.25 283.29 L762.25 282.42 L764.25 281.59 L766.25 280.82 L768.25 280.11 L770.25 279.47 L772.25 278.89 L774.25 278.35 L776.25 277.84 L778.25 277.36 L780.25 276.88 L782.25 276.4 L784.25 275.92 L786.25 275.45 L788.25 274.98 L790.25 274.51 L792.25 274.06 L794.25 273.62 L796.25 273.18 L798.25 272.76 L800.25 272.34 L802.25 271.94 L804.25 271.54 L806.25 271.15 L808.25 270.77 L810.25 270.4 L812.25 270.04 L814.25 269.69 L816.25 269.35 L818.25 269.01 L820.25 268.67 L822.25 268.34 L824.25 268.02 L826.25 267.71 L828.25 267.41 L830.25 267.11 L831 267" fill="none" stroke="#ff2ee0" stroke-width="3.3" stroke-linecap="round" stroke-linejoin="round"/>
<path d="M55 678.52 L59 674.37 L63 670.13 L67 665.81 L71 661.44 L75 657.04 L79 652.62 L83 648.2 L87 643.81 L91 639.47 L95 635.19 L99 630.99 L103 626.89 L107 622.88 L111 618.96 L115 615.13 L119 611.37 L123 607.69 L127 604.09 L131 600.55 L135 597.08 L139 593.67 L143 590.32 L147 587.03 L151 583.78 L155 580.59 L159 577.45 L163 574.36 L167 571.32 L171 568.32 L175 565.37 L179 562.46 L183 559.59 L187 556.76 L191 553.98 L195 551.22 L199 548.51 L203 545.83 L207 543.18 L211 540.56 L215 537.98 L219 535.42 L223 532.89 L227 530.39 L231 527.91 L235 525.45 L239 523.02 L243 520.6 L247 518.21 L251 515.84 L255 513.49 L259 511.15 L263 508.84 L267 506.54 L271 504.26 L275 501.99 L279 499.74 L283 497.51 L287 495.29 L291 493.08 L295 490.89 L299 488.7 L303 486.53 L307 484.37 L311 482.22 L315 480.08 L319 477.95 L323 475.83 L327 473.71 L331 471.61 L335 469.5 L339 467.41 L343 465.32 L347 463.23 L351 461.15 L355 459.07 L359 456.99 L363 454.91 L367 452.84 L371 450.77 L375 448.71 L379 446.65 L383 444.6 L387 442.55 L391 440.51 L395 438.48 L399 436.46 L403 434.45 L407 432.45 L411 430.46 L415 428.48 L419 426.52 L423 424.57 L427 422.63 L431 420.71 L435 418.8 L439 416.91 L443 415.04 L447 413.17 L451 411.32 L455 409.48 L459 407.65 L463 405.83 L467 404.01 L471 402.21 L475 400.4 L479 398.6 L483 396.8 L487 395.01 L491 393.22 L495 391.44 L499 389.66 L503 387.89 L507 386.12 L511 384.35 L515 382.6 L519 380.85 L523 379.1 L527 377.37 L531 375.64 L535 373.92 L539 372.2 L543 370.5 L547 368.8 L551 367.11 L555 365.43 L559 363.76 L563 362.1 L567 360.45 L571 358.81 L575 357.18 L579 355.56 L583 353.95 L587 352.35 L591 350.77 L595 349.19 L599 347.63 L603 346.08 L607 344.55 L611 343.02 L615 341.51 L619 340 L623 338.51 L627 337.02 L631 335.55 L635 334.07 L639 332.61 L643 331.15 L647 329.69 L651 328.24 L655 326.79 L659 325.35 L663 323.9 L667 322.45 L671 321.01 L675 319.56 L679 318.11 L683 316.67 L687 315.22 L691 313.77 L695 312.33 L699 310.88 L703 309.43 L707 307.99 L711 306.55 L715 305.1 L719 303.66 L723 302.23 L727 300.79 L731 299.36 L735 297.93 L739 296.5 L743 295.08 L747 293.65 L751 292.24 L755 290.82 L759 289.41 L763 288.01 L767 286.61 L771 285.21 L775 283.82 L779 282.43 L783 281.05 L787 279.68 L791 278.3 L795 276.94 L799 275.57 L803 274.21 L807 272.86 L811 271.51 L815 270.17 L819 268.83 L823 267.49 L827 266.16 L831 264.83 L835 263.51 L839 262.19 L843 260.88 L847 259.57 L851 258.26 L855 256.96 L859 255.66 L863 254.36 L867 253.07 L871 251.79 L875 250.51 L879 249.23 L883 247.95 L887 246.68 L891 245.41 L895 244.15 L899 242.89 L903 241.63 L907 240.38 L911 239.13 L915 237.89 L919 236.65 L923 235.41 L927 234.17 L931 232.94 L935 231.71 L939 230.49 L943 229.26 L947 228.04 L951 226.83 L955 225.62 L959 224.41 L963 223.2 L967 222 L971 220.8 L975 219.6 L979 218.4 L983 217.21 L987 216.02 L991 214.84 L995 213.65 L999 212.47 L1003 211.29 L1007 210.12 L1011 208.95 L1015 207.78 L1019 206.61 L1023 205.44 L1027 204.28 L1031 203.12 L1035 201.96 L1039 200.8 L1043 199.65 L1047 198.5 L1051 197.35 L1055 196.2 L1059 195.06 L1063 193.92 L1067 192.77 L1071 191.64 L1075 190.5 L1079 189.36 L1083 188.23 L1087 187.1 L1091 185.97 L1095 184.84 L1099 183.72 L1103 182.59 L1107 181.47 L1111 180.35 L1115 179.23 L1119 178.11 L1123 177 L1127 175.88 L1131 174.77 L1135 173.66 L1139 172.55 L1143 171.44 L1147 170.33 L1151 169.22 L1155 168.12 L1159 167.01 L1163 165.91 L1167 164.81 L1171 163.71 L1175 162.61 L1179 161.51 L1183 160.41 L1187 159.31 L1191 158.22 L1195 157.12 L1199 156.02 L1203 154.93 L1207 153.84 L1211 152.74 L1215 151.65 L1219 150.56 L1223 149.47 L1227 148.38 L1231 147.29 L1235 146.2 L1239 145.11 L1243 144.02 L1247 142.93 L1251 141.85 L1251.5 141.71" fill="none" stroke="#1c1cd8" stroke-width="2" stroke-linecap="round"/>
<rect x="165.5" y="499.5" width="91.25" height="68.5" fill="#d9e7fb" fill-opacity="0.86"/>
<rect x="510.5" y="339.5" width="91" height="43.5" fill="#d9e7fb" fill-opacity="0.86"/>
<rect x="855.5" y="210" width="96" height="45.5" fill="#d9e7fb" fill-opacity="0.86"/>
<rect x="256.25" y="315.5" width="100.5" height="185" fill="#fefba9" fill-opacity="0.97" stroke="#e2b93f" stroke-width="1.1"/>
<rect x="601.35" y="198" width="124.9" height="142" fill="#fefba9" fill-opacity="0.97" stroke="#e2b93f" stroke-width="1.1"/>
<rect x="950.75" y="109.3" width="134.25" height="100.7" fill="#fefba9" fill-opacity="0.97" stroke="#e2b93f" stroke-width="1.1"/>
<rect x="449.25" y="364.75" width="61.75" height="21.5" fill="#a4f29a" fill-opacity="0.9" stroke="#e3cf45" stroke-width="1.3"/>
<rect x="812.4" y="254.3" width="41.35" height="23" fill="#a4f29a" fill-opacity="0.9" stroke="#e3cf45" stroke-width="1.3"/>
<rect x="306" y="316" width="18.3" height="184" fill="#bfd3c3"/>
<rect x="660.9" y="198.5" width="17.2" height="141" fill="#bfd3c3"/>
<rect x="1012.5" y="109.8" width="19.25" height="99.7" fill="#dbdfa2"/>
<g clip-path="url(#inbox)"><path d="M55 678.52 L59 674.37 L63 670.13 L67 665.81 L71 661.44 L75 657.04 L79 652.62 L83 648.2 L87 643.81 L91 639.47 L95 635.19 L99 630.99 L103 626.89 L107 622.88 L111 618.96 L115 615.13 L119 611.37 L123 607.69 L127 604.09 L131 600.55 L135 597.08 L139 593.67 L143 590.32 L147 587.03 L151 583.78 L155 580.59 L159 577.45 L163 574.36 L167 571.32 L171 568.32 L175 565.37 L179 562.46 L183 559.59 L187 556.76 L191 553.98 L195 551.22 L199 548.51 L203 545.83 L207 543.18 L211 540.56 L215 537.98 L219 535.42 L223 532.89 L227 530.39 L231 527.91 L235 525.45 L239 523.02 L243 520.6 L247 518.21 L251 515.84 L255 513.49 L259 511.15 L263 508.84 L267 506.54 L271 504.26 L275 501.99 L279 499.74 L283 497.51 L287 495.29 L291 493.08 L295 490.89 L299 488.7 L303 486.53 L307 484.37 L311 482.22 L315 480.08 L319 477.95 L323 475.83 L327 473.71 L331 471.61 L335 469.5 L339 467.41 L343 465.32 L347 463.23 L351 461.15 L355 459.07 L359 456.99 L363 454.91 L367 452.84 L371 450.77 L375 448.71 L379 446.65 L383 444.6 L387 442.55 L391 440.51 L395 438.48 L399 436.46 L403 434.45 L407 432.45 L411 430.46 L415 428.48 L419 426.52 L423 424.57 L427 422.63 L431 420.71 L435 418.8 L439 416.91 L443 415.04 L447 413.17 L451 411.32 L455 409.48 L459 407.65 L463 405.83 L467 404.01 L471 402.21 L475 400.4 L479 398.6 L483 396.8 L487 395.01 L491 393.22 L495 391.44 L499 389.66 L503 387.89 L507 386.12 L511 384.35 L515 382.6 L519 380.85 L523 379.1 L527 377.37 L531 375.64 L535 373.92 L539 372.2 L543 370.5 L547 368.8 L551 367.11 L555 365.43 L559 363.76 L563 362.1 L567 360.45 L571 358.81 L575 357.18 L579 355.56 L583 353.95 L587 352.35 L591 350.77 L595 349.19 L599 347.63 L603 346.08 L607 344.55 L611 343.02 L615 341.51 L619 340 L623 338.51 L627 337.02 L631 335.55 L635 334.07 L639 332.61 L643 331.15 L647 329.69 L651 328.24 L655 326.79 L659 325.35 L663 323.9 L667 322.45 L671 321.01 L675 319.56 L679 318.11 L683 316.67 L687 315.22 L691 313.77 L695 312.33 L699 310.88 L703 309.43 L707 307.99 L711 306.55 L715 305.1 L719 303.66 L723 302.23 L727 300.79 L731 299.36 L735 297.93 L739 296.5 L743 295.08 L747 293.65 L751 292.24 L755 290.82 L759 289.41 L763 288.01 L767 286.61 L771 285.21 L775 283.82 L779 282.43 L783 281.05 L787 279.68 L791 278.3 L795 276.94 L799 275.57 L803 274.21 L807 272.86 L811 271.51 L815 270.17 L819 268.83 L823 267.49 L827 266.16 L831 264.83 L835 263.51 L839 262.19 L843 260.88 L847 259.57 L851 258.26 L855 256.96 L859 255.66 L863 254.36 L867 253.07 L871 251.79 L875 250.51 L879 249.23 L883 247.95 L887 246.68 L891 245.41 L895 244.15 L899 242.89 L903 241.63 L907 240.38 L911 239.13 L915 237.89 L919 236.65 L923 235.41 L927 234.17 L931 232.94 L935 231.71 L939 230.49 L943 229.26 L947 228.04 L951 226.83 L955 225.62 L959 224.41 L963 223.2 L967 222 L971 220.8 L975 219.6 L979 218.4 L983 217.21 L987 216.02 L991 214.84 L995 213.65 L999 212.47 L1003 211.29 L1007 210.12 L1011 208.95 L1015 207.78 L1019 206.61 L1023 205.44 L1027 204.28 L1031 203.12 L1035 201.96 L1039 200.8 L1043 199.65 L1047 198.5 L1051 197.35 L1055 196.2 L1059 195.06 L1063 193.92 L1067 192.77 L1071 191.64 L1075 190.5 L1079 189.36 L1083 188.23 L1087 187.1 L1091 185.97 L1095 184.84 L1099 183.72 L1103 182.59 L1107 181.47 L1111 180.35 L1115 179.23 L1119 178.11 L1123 177 L1127 175.88 L1131 174.77 L1135 173.66 L1139 172.55 L1143 171.44 L1147 170.33 L1151 169.22 L1155 168.12 L1159 167.01 L1163 165.91 L1167 164.81 L1171 163.71 L1175 162.61 L1179 161.51 L1183 160.41 L1187 159.31 L1191 158.22 L1195 157.12 L1199 156.02 L1203 154.93 L1207 153.84 L1211 152.74 L1215 151.65 L1219 150.56 L1223 149.47 L1227 148.38 L1231 147.29 L1235 146.2 L1239 145.11 L1243 144.02 L1247 142.93 L1251 141.85 L1251.5 141.71" fill="none" stroke="#565c92" stroke-width="1.6"/></g>
<g clip-path="url(#inblue)"><path d="M55 678.52 L59 674.37 L63 670.13 L67 665.81 L71 661.44 L75 657.04 L79 652.62 L83 648.2 L87 643.81 L91 639.47 L95 635.19 L99 630.99 L103 626.89 L107 622.88 L111 618.96 L115 615.13 L119 611.37 L123 607.69 L127 604.09 L131 600.55 L135 597.08 L139 593.67 L143 590.32 L147 587.03 L151 583.78 L155 580.59 L159 577.45 L163 574.36 L167 571.32 L171 568.32 L175 565.37 L179 562.46 L183 559.59 L187 556.76 L191 553.98 L195 551.22 L199 548.51 L203 545.83 L207 543.18 L211 540.56 L215 537.98 L219 535.42 L223 532.89 L227 530.39 L231 527.91 L235 525.45 L239 523.02 L243 520.6 L247 518.21 L251 515.84 L255 513.49 L259 511.15 L263 508.84 L267 506.54 L271 504.26 L275 501.99 L279 499.74 L283 497.51 L287 495.29 L291 493.08 L295 490.89 L299 488.7 L303 486.53 L307 484.37 L311 482.22 L315 480.08 L319 477.95 L323 475.83 L327 473.71 L331 471.61 L335 469.5 L339 467.41 L343 465.32 L347 463.23 L351 461.15 L355 459.07 L359 456.99 L363 454.91 L367 452.84 L371 450.77 L375 448.71 L379 446.65 L383 444.6 L387 442.55 L391 440.51 L395 438.48 L399 436.46 L403 434.45 L407 432.45 L411 430.46 L415 428.48 L419 426.52 L423 424.57 L427 422.63 L431 420.71 L435 418.8 L439 416.91 L443 415.04 L447 413.17 L451 411.32 L455 409.48 L459 407.65 L463 405.83 L467 404.01 L471 402.21 L475 400.4 L479 398.6 L483 396.8 L487 395.01 L491 393.22 L495 391.44 L499 389.66 L503 387.89 L507 386.12 L511 384.35 L515 382.6 L519 380.85 L523 379.1 L527 377.37 L531 375.64 L535 373.92 L539 372.2 L543 370.5 L547 368.8 L551 367.11 L555 365.43 L559 363.76 L563 362.1 L567 360.45 L571 358.81 L575 357.18 L579 355.56 L583 353.95 L587 352.35 L591 350.77 L595 349.19 L599 347.63 L603 346.08 L607 344.55 L611 343.02 L615 341.51 L619 340 L623 338.51 L627 337.02 L631 335.55 L635 334.07 L639 332.61 L643 331.15 L647 329.69 L651 328.24 L655 326.79 L659 325.35 L663 323.9 L667 322.45 L671 321.01 L675 319.56 L679 318.11 L683 316.67 L687 315.22 L691 313.77 L695 312.33 L699 310.88 L703 309.43 L707 307.99 L711 306.55 L715 305.1 L719 303.66 L723 302.23 L727 300.79 L731 299.36 L735 297.93 L739 296.5 L743 295.08 L747 293.65 L751 292.24 L755 290.82 L759 289.41 L763 288.01 L767 286.61 L771 285.21 L775 283.82 L779 282.43 L783 281.05 L787 279.68 L791 278.3 L795 276.94 L799 275.57 L803 274.21 L807 272.86 L811 271.51 L815 270.17 L819 268.83 L823 267.49 L827 266.16 L831 264.83 L835 263.51 L839 262.19 L843 260.88 L847 259.57 L851 258.26 L855 256.96 L859 255.66 L863 254.36 L867 253.07 L871 251.79 L875 250.51 L879 249.23 L883 247.95 L887 246.68 L891 245.41 L895 244.15 L899 242.89 L903 241.63 L907 240.38 L911 239.13 L915 237.89 L919 236.65 L923 235.41 L927 234.17 L931 232.94 L935 231.71 L939 230.49 L943 229.26 L947 228.04 L951 226.83 L955 225.62 L959 224.41 L963 223.2 L967 222 L971 220.8 L975 219.6 L979 218.4 L983 217.21 L987 216.02 L991 214.84 L995 213.65 L999 212.47 L1003 211.29 L1007 210.12 L1011 208.95 L1015 207.78 L1019 206.61 L1023 205.44 L1027 204.28 L1031 203.12 L1035 201.96 L1039 200.8 L1043 199.65 L1047 198.5 L1051 197.35 L1055 196.2 L1059 195.06 L1063 193.92 L1067 192.77 L1071 191.64 L1075 190.5 L1079 189.36 L1083 188.23 L1087 187.1 L1091 185.97 L1095 184.84 L1099 183.72 L1103 182.59 L1107 181.47 L1111 180.35 L1115 179.23 L1119 178.11 L1123 177 L1127 175.88 L1131 174.77 L1135 173.66 L1139 172.55 L1143 171.44 L1147 170.33 L1151 169.22 L1155 168.12 L1159 167.01 L1163 165.91 L1167 164.81 L1171 163.71 L1175 162.61 L1179 161.51 L1183 160.41 L1187 159.31 L1191 158.22 L1195 157.12 L1199 156.02 L1203 154.93 L1207 153.84 L1211 152.74 L1215 151.65 L1219 150.56 L1223 149.47 L1227 148.38 L1231 147.29 L1235 146.2 L1239 145.11 L1243 144.02 L1247 142.93 L1251 141.85 L1251.5 141.71" fill="none" stroke="#3a42d2" stroke-width="1.9"/></g>
<defs><clipPath id="iny3"><rect x="950.75" y="109.3" width="134.25" height="100.7"/></clipPath></defs>
<g clip-path="url(#iny3)"><path d="M55 678.52 L59 674.37 L63 670.13 L67 665.81 L71 661.44 L75 657.04 L79 652.62 L83 648.2 L87 643.81 L91 639.47 L95 635.19 L99 630.99 L103 626.89 L107 622.88 L111 618.96 L115 615.13 L119 611.37 L123 607.69 L127 604.09 L131 600.55 L135 597.08 L139 593.67 L143 590.32 L147 587.03 L151 583.78 L155 580.59 L159 577.45 L163 574.36 L167 571.32 L171 568.32 L175 565.37 L179 562.46 L183 559.59 L187 556.76 L191 553.98 L195 551.22 L199 548.51 L203 545.83 L207 543.18 L211 540.56 L215 537.98 L219 535.42 L223 532.89 L227 530.39 L231 527.91 L235 525.45 L239 523.02 L243 520.6 L247 518.21 L251 515.84 L255 513.49 L259 511.15 L263 508.84 L267 506.54 L271 504.26 L275 501.99 L279 499.74 L283 497.51 L287 495.29 L291 493.08 L295 490.89 L299 488.7 L303 486.53 L307 484.37 L311 482.22 L315 480.08 L319 477.95 L323 475.83 L327 473.71 L331 471.61 L335 469.5 L339 467.41 L343 465.32 L347 463.23 L351 461.15 L355 459.07 L359 456.99 L363 454.91 L367 452.84 L371 450.77 L375 448.71 L379 446.65 L383 444.6 L387 442.55 L391 440.51 L395 438.48 L399 436.46 L403 434.45 L407 432.45 L411 430.46 L415 428.48 L419 426.52 L423 424.57 L427 422.63 L431 420.71 L435 418.8 L439 416.91 L443 415.04 L447 413.17 L451 411.32 L455 409.48 L459 407.65 L463 405.83 L467 404.01 L471 402.21 L475 400.4 L479 398.6 L483 396.8 L487 395.01 L491 393.22 L495 391.44 L499 389.66 L503 387.89 L507 386.12 L511 384.35 L515 382.6 L519 380.85 L523 379.1 L527 377.37 L531 375.64 L535 373.92 L539 372.2 L543 370.5 L547 368.8 L551 367.11 L555 365.43 L559 363.76 L563 362.1 L567 360.45 L571 358.81 L575 357.18 L579 355.56 L583 353.95 L587 352.35 L591 350.77 L595 349.19 L599 347.63 L603 346.08 L607 344.55 L611 343.02 L615 341.51 L619 340 L623 338.51 L627 337.02 L631 335.55 L635 334.07 L639 332.61 L643 331.15 L647 329.69 L651 328.24 L655 326.79 L659 325.35 L663 323.9 L667 322.45 L671 321.01 L675 319.56 L679 318.11 L683 316.67 L687 315.22 L691 313.77 L695 312.33 L699 310.88 L703 309.43 L707 307.99 L711 306.55 L715 305.1 L719 303.66 L723 302.23 L727 300.79 L731 299.36 L735 297.93 L739 296.5 L743 295.08 L747 293.65 L751 292.24 L755 290.82 L759 289.41 L763 288.01 L767 286.61 L771 285.21 L775 283.82 L779 282.43 L783 281.05 L787 279.68 L791 278.3 L795 276.94 L799 275.57 L803 274.21 L807 272.86 L811 271.51 L815 270.17 L819 268.83 L823 267.49 L827 266.16 L831 264.83 L835 263.51 L839 262.19 L843 260.88 L847 259.57 L851 258.26 L855 256.96 L859 255.66 L863 254.36 L867 253.07 L871 251.79 L875 250.51 L879 249.23 L883 247.95 L887 246.68 L891 245.41 L895 244.15 L899 242.89 L903 241.63 L907 240.38 L911 239.13 L915 237.89 L919 236.65 L923 235.41 L927 234.17 L931 232.94 L935 231.71 L939 230.49 L943 229.26 L947 228.04 L951 226.83 L955 225.62 L959 224.41 L963 223.2 L967 222 L971 220.8 L975 219.6 L979 218.4 L983 217.21 L987 216.02 L991 214.84 L995 213.65 L999 212.47 L1003 211.29 L1007 210.12 L1011 208.95 L1015 207.78 L1019 206.61 L1023 205.44 L1027 204.28 L1031 203.12 L1035 201.96 L1039 200.8 L1043 199.65 L1047 198.5 L1051 197.35 L1055 196.2 L1059 195.06 L1063 193.92 L1067 192.77 L1071 191.64 L1075 190.5 L1079 189.36 L1083 188.23 L1087 187.1 L1091 185.97 L1095 184.84 L1099 183.72 L1103 182.59 L1107 181.47 L1111 180.35 L1115 179.23 L1119 178.11 L1123 177 L1127 175.88 L1131 174.77 L1135 173.66 L1139 172.55 L1143 171.44 L1147 170.33 L1151 169.22 L1155 168.12 L1159 167.01 L1163 165.91 L1167 164.81 L1171 163.71 L1175 162.61 L1179 161.51 L1183 160.41 L1187 159.31 L1191 158.22 L1195 157.12 L1199 156.02 L1203 154.93 L1207 153.84 L1211 152.74 L1215 151.65 L1219 150.56 L1223 149.47 L1227 148.38 L1231 147.29 L1235 146.2 L1239 145.11 L1243 144.02 L1247 142.93 L1251 141.85 L1251.5 141.71" fill="none" stroke="#3b3fc4" stroke-width="1.8"/></g>
<g clip-path="url(#inblue)"><path d="M396.25 406.25 L398.25 404.04 L400.25 402.12 L402.25 400.64 L404.25 399.56 L406.25 398.67 L408.25 397.86 L410.25 397.02 L412.25 396.1 L414.25 395.16 L416.25 394.23 L418.25 393.35 L420.25 392.57 L422.25 391.88 L424.25 391.26 L426.25 390.69 L428.25 390.14 L430.25 389.63 L432.25 389.13 L434.25 388.63 L436.25 388.14 L438.25 387.64 L440.25 387.15 L442.25 386.66 L444.25 386.21 L446.25 385.78 L448.25 385.4 L450.25 385.06 L452.25 384.75 L454.25 384.46 L456.25 384.19 L458.25 383.94 L460.25 383.69 L462.25 383.46 L464.25 383.23 L466.25 383.01 L468.25 382.79 L470.25 382.57 L472.25 382.35 L474.25 382.12 L476.25 381.89 L478.25 381.64 L480.25 381.4 L482.25 381.15 L484.25 380.9 L486.25 380.66 L488.25 380.41 L490.25 380.17 L492.25 379.92 L494.25 379.67 L496.25 379.43 L498.25 379.18 L500.25 378.93 L502.25 378.67 L504.25 378.42 L506.25 378.16 L508.25 377.9 L510.25 377.63 L512.25 377.37 L514.25 377.1 L516.25 376.84 L518.25 376.57 L520.25 376.3 L522.25 376.02 L524.25 375.73 L526.25 375.43 L528.25 375.12 L530.25 374.79 L532.25 374.45 L534.25 374.09 L536.25 373.71 L538.25 373.32 L540.25 372.92 L542.25 372.51 L544.25 372.1 L546.25 371.69 L548.25 371.28 L550.25 370.87 L552.25 370.47 L554.25 370.08 L556.25 369.7 L558.25 369.33 L560.25 368.97 L562.25 368.6 L564.25 368.24 L566.25 367.89 L568.25 367.53 L570.25 367.18 L572.25 366.83 L574.25 366.48 L576.25 366.13 L578.25 365.79 L580.25 365.44 L582.25 365.1 L584.25 364.76 L586.25 364.43 L588.25 364.11 L590.25 363.8 L592.25 363.5 L594.25 363.2 L596.25 362.88 L598.25 362.55 L600.25 362.2 L602.25 361.81 L604.25 361.38 L606.25 360.9 L608.25 360.38 L610.25 359.82 L612.25 359.24 L614.25 358.64 L616.25 358.03 L618.25 357.42 L620.25 356.81 L622.25 356.22 L624.25 355.64 L626.25 355.1 L628.25 354.59 L630.25 354.1 L632.25 353.64 L634.25 353.19 L636.25 352.74 L638.25 352.31 L640.25 351.89 L642.25 351.46 L644.25 351.04 L646.25 350.61 L648.25 350.17 L650.25 349.73 L652.25 349.27 L654.25 348.79 L656.25 348.3 L658.25 347.79 L660.25 347.28 L662.25 346.76 L664.25 346.23 L666.25 345.67 L668.25 345.09 L670.25 344.48 L672.25 343.83 L674.25 343.13 L676.25 342.35 L678.25 341.52 L680.25 340.66 L682.25 339.78 L684.25 338.86 L686.25 337.91 L688.25 336.91 L690.25 335.87 L692.25 334.78 L694.25 333.63 L696.25 332.43 L698.25 331.16 L700.25 329.83 L702.25 328.38 L704.25 326.81 L706.25 325.17 L708.25 323.49 L710.25 321.82 L712.25 320.18 L714.25 318.65 L716.25 317.33 L718.25 316.03 L720.25 314.45 L722.25 312.19 L724.25 308.41 L726.25 304.58 L728.25 300.97 L730.25 298.62 L732.25 297.13 L734.25 295.96 L736.25 294.92 L738.25 293.83 L740.25 292.75 L742.25 291.72 L744.25 290.72 L746.25 289.75 L748.25 288.81 L750.25 287.88 L752.25 286.96 L754.25 286.03 L756.25 285.1 L758.25 284.18 L760.25 283.29 L762.25 282.42 L764.25 281.59 L766.25 280.82 L768.25 280.11 L770.25 279.47 L772.25 278.89 L774.25 278.35 L776.25 277.84 L778.25 277.36 L780.25 276.88 L782.25 276.4 L784.25 275.92 L786.25 275.45 L788.25 274.98 L790.25 274.51 L792.25 274.06 L794.25 273.62 L796.25 273.18 L798.25 272.76 L800.25 272.34 L802.25 271.94 L804.25 271.54 L806.25 271.15 L808.25 270.77 L810.25 270.4 L812.25 270.04 L814.25 269.69 L816.25 269.35 L818.25 269.01 L820.25 268.67 L822.25 268.34 L824.25 268.02 L826.25 267.71 L828.25 267.41 L830.25 267.11 L831 267" fill="none" stroke="#f34fe6" stroke-width="2.8"/></g>
<defs><clipPath id="inyel">
<rect x="256.25" y="315.5" width="100.5" height="185"/>
<rect x="601.35" y="198" width="124.9" height="142"/>
<rect x="950.75" y="109.3" width="134.25" height="100.7"/>
</clipPath></defs>
<g clip-path="url(#inyel)"><path d="M396.25 406.25 L398.25 404.04 L400.25 402.12 L402.25 400.64 L404.25 399.56 L406.25 398.67 L408.25 397.86 L410.25 397.02 L412.25 396.1 L414.25 395.16 L416.25 394.23 L418.25 393.35 L420.25 392.57 L422.25 391.88 L424.25 391.26 L426.25 390.69 L428.25 390.14 L430.25 389.63 L432.25 389.13 L434.25 388.63 L436.25 388.14 L438.25 387.64 L440.25 387.15 L442.25 386.66 L444.25 386.21 L446.25 385.78 L448.25 385.4 L450.25 385.06 L452.25 384.75 L454.25 384.46 L456.25 384.19 L458.25 383.94 L460.25 383.69 L462.25 383.46 L464.25 383.23 L466.25 383.01 L468.25 382.79 L470.25 382.57 L472.25 382.35 L474.25 382.12 L476.25 381.89 L478.25 381.64 L480.25 381.4 L482.25 381.15 L484.25 380.9 L486.25 380.66 L488.25 380.41 L490.25 380.17 L492.25 379.92 L494.25 379.67 L496.25 379.43 L498.25 379.18 L500.25 378.93 L502.25 378.67 L504.25 378.42 L506.25 378.16 L508.25 377.9 L510.25 377.63 L512.25 377.37 L514.25 377.1 L516.25 376.84 L518.25 376.57 L520.25 376.3 L522.25 376.02 L524.25 375.73 L526.25 375.43 L528.25 375.12 L530.25 374.79 L532.25 374.45 L534.25 374.09 L536.25 373.71 L538.25 373.32 L540.25 372.92 L542.25 372.51 L544.25 372.1 L546.25 371.69 L548.25 371.28 L550.25 370.87 L552.25 370.47 L554.25 370.08 L556.25 369.7 L558.25 369.33 L560.25 368.97 L562.25 368.6 L564.25 368.24 L566.25 367.89 L568.25 367.53 L570.25 367.18 L572.25 366.83 L574.25 366.48 L576.25 366.13 L578.25 365.79 L580.25 365.44 L582.25 365.1 L584.25 364.76 L586.25 364.43 L588.25 364.11 L590.25 363.8 L592.25 363.5 L594.25 363.2 L596.25 362.88 L598.25 362.55 L600.25 362.2 L602.25 361.81 L604.25 361.38 L606.25 360.9 L608.25 360.38 L610.25 359.82 L612.25 359.24 L614.25 358.64 L616.25 358.03 L618.25 357.42 L620.25 356.81 L622.25 356.22 L624.25 355.64 L626.25 355.1 L628.25 354.59 L630.25 354.1 L632.25 353.64 L634.25 353.19 L636.25 352.74 L638.25 352.31 L640.25 351.89 L642.25 351.46 L644.25 351.04 L646.25 350.61 L648.25 350.17 L650.25 349.73 L652.25 349.27 L654.25 348.79 L656.25 348.3 L658.25 347.79 L660.25 347.28 L662.25 346.76 L664.25 346.23 L666.25 345.67 L668.25 345.09 L670.25 344.48 L672.25 343.83 L674.25 343.13 L676.25 342.35 L678.25 341.52 L680.25 340.66 L682.25 339.78 L684.25 338.86 L686.25 337.91 L688.25 336.91 L690.25 335.87 L692.25 334.78 L694.25 333.63 L696.25 332.43 L698.25 331.16 L700.25 329.83 L702.25 328.38 L704.25 326.81 L706.25 325.17 L708.25 323.49 L710.25 321.82 L712.25 320.18 L714.25 318.65 L716.25 317.33 L718.25 316.03 L720.25 314.45 L722.25 312.19 L724.25 308.41 L726.25 304.58 L728.25 300.97 L730.25 298.62 L732.25 297.13 L734.25 295.96 L736.25 294.92 L738.25 293.83 L740.25 292.75 L742.25 291.72 L744.25 290.72 L746.25 289.75 L748.25 288.81 L750.25 287.88 L752.25 286.96 L754.25 286.03 L756.25 285.1 L758.25 284.18 L760.25 283.29 L762.25 282.42 L764.25 281.59 L766.25 280.82 L768.25 280.11 L770.25 279.47 L772.25 278.89 L774.25 278.35 L776.25 277.84 L778.25 277.36 L780.25 276.88 L782.25 276.4 L784.25 275.92 L786.25 275.45 L788.25 274.98 L790.25 274.51 L792.25 274.06 L794.25 273.62 L796.25 273.18 L798.25 272.76 L800.25 272.34 L802.25 271.94 L804.25 271.54 L806.25 271.15 L808.25 270.77 L810.25 270.4 L812.25 270.04 L814.25 269.69 L816.25 269.35 L818.25 269.01 L820.25 268.67 L822.25 268.34 L824.25 268.02 L826.25 267.71 L828.25 267.41 L830.25 267.11 L831 267" fill="none" stroke="#f257b4" stroke-width="2.8"/></g>
<defs><clipPath id="ingreen">
<rect x="449.25" y="364.75" width="61.75" height="21.5"/>
<rect x="812.4" y="254.3" width="41.35" height="23"/>
</clipPath></defs>
<g clip-path="url(#ingreen)"><path d="M396.25 406.25 L398.25 404.04 L400.25 402.12 L402.25 400.64 L404.25 399.56 L406.25 398.67 L408.25 397.86 L410.25 397.02 L412.25 396.1 L414.25 395.16 L416.25 394.23 L418.25 393.35 L420.25 392.57 L422.25 391.88 L424.25 391.26 L426.25 390.69 L428.25 390.14 L430.25 389.63 L432.25 389.13 L434.25 388.63 L436.25 388.14 L438.25 387.64 L440.25 387.15 L442.25 386.66 L444.25 386.21 L446.25 385.78 L448.25 385.4 L450.25 385.06 L452.25 384.75 L454.25 384.46 L456.25 384.19 L458.25 383.94 L460.25 383.69 L462.25 383.46 L464.25 383.23 L466.25 383.01 L468.25 382.79 L470.25 382.57 L472.25 382.35 L474.25 382.12 L476.25 381.89 L478.25 381.64 L480.25 381.4 L482.25 381.15 L484.25 380.9 L486.25 380.66 L488.25 380.41 L490.25 380.17 L492.25 379.92 L494.25 379.67 L496.25 379.43 L498.25 379.18 L500.25 378.93 L502.25 378.67 L504.25 378.42 L506.25 378.16 L508.25 377.9 L510.25 377.63 L512.25 377.37 L514.25 377.1 L516.25 376.84 L518.25 376.57 L520.25 376.3 L522.25 376.02 L524.25 375.73 L526.25 375.43 L528.25 375.12 L530.25 374.79 L532.25 374.45 L534.25 374.09 L536.25 373.71 L538.25 373.32 L540.25 372.92 L542.25 372.51 L544.25 372.1 L546.25 371.69 L548.25 371.28 L550.25 370.87 L552.25 370.47 L554.25 370.08 L556.25 369.7 L558.25 369.33 L560.25 368.97 L562.25 368.6 L564.25 368.24 L566.25 367.89 L568.25 367.53 L570.25 367.18 L572.25 366.83 L574.25 366.48 L576.25 366.13 L578.25 365.79 L580.25 365.44 L582.25 365.1 L584.25 364.76 L586.25 364.43 L588.25 364.11 L590.25 363.8 L592.25 363.5 L594.25 363.2 L596.25 362.88 L598.25 362.55 L600.25 362.2 L602.25 361.81 L604.25 361.38 L606.25 360.9 L608.25 360.38 L610.25 359.82 L612.25 359.24 L614.25 358.64 L616.25 358.03 L618.25 357.42 L620.25 356.81 L622.25 356.22 L624.25 355.64 L626.25 355.1 L628.25 354.59 L630.25 354.1 L632.25 353.64 L634.25 353.19 L636.25 352.74 L638.25 352.31 L640.25 351.89 L642.25 351.46 L644.25 351.04 L646.25 350.61 L648.25 350.17 L650.25 349.73 L652.25 349.27 L654.25 348.79 L656.25 348.3 L658.25 347.79 L660.25 347.28 L662.25 346.76 L664.25 346.23 L666.25 345.67 L668.25 345.09 L670.25 344.48 L672.25 343.83 L674.25 343.13 L676.25 342.35 L678.25 341.52 L680.25 340.66 L682.25 339.78 L684.25 338.86 L686.25 337.91 L688.25 336.91 L690.25 335.87 L692.25 334.78 L694.25 333.63 L696.25 332.43 L698.25 331.16 L700.25 329.83 L702.25 328.38 L704.25 326.81 L706.25 325.17 L708.25 323.49 L710.25 321.82 L712.25 320.18 L714.25 318.65 L716.25 317.33 L718.25 316.03 L720.25 314.45 L722.25 312.19 L724.25 308.41 L726.25 304.58 L728.25 300.97 L730.25 298.62 L732.25 297.13 L734.25 295.96 L736.25 294.92 L738.25 293.83 L740.25 292.75 L742.25 291.72 L744.25 290.72 L746.25 289.75 L748.25 288.81 L750.25 287.88 L752.25 286.96 L754.25 286.03 L756.25 285.1 L758.25 284.18 L760.25 283.29 L762.25 282.42 L764.25 281.59 L766.25 280.82 L768.25 280.11 L770.25 279.47 L772.25 278.89 L774.25 278.35 L776.25 277.84 L778.25 277.36 L780.25 276.88 L782.25 276.4 L784.25 275.92 L786.25 275.45 L788.25 274.98 L790.25 274.51 L792.25 274.06 L794.25 273.62 L796.25 273.18 L798.25 272.76 L800.25 272.34 L802.25 271.94 L804.25 271.54 L806.25 271.15 L808.25 270.77 L810.25 270.4 L812.25 270.04 L814.25 269.69 L816.25 269.35 L818.25 269.01 L820.25 268.67 L822.25 268.34 L824.25 268.02 L826.25 267.71 L828.25 267.41 L830.25 267.11 L831 267" fill="none" stroke="#ab62c4" stroke-width="2.6"/></g>
<path d="M315 321 V500.5" stroke="#5a6b5e" stroke-width="1" stroke-dasharray="6 4.5" fill="none"/>
<path d="M312 321 L315 316.3 L318 321" stroke="#5a6b5e" stroke-width="1" fill="none"/>
<path d="M306 315.5 H324.3 M306 500 H324.3" stroke="#555" stroke-width="1.2" fill="none"/>
<path d="M669.4 203.5 V340" stroke="#5a6b5e" stroke-width="1" stroke-dasharray="6 4.5" fill="none"/>
<path d="M666.4 203.5 L669.4 198.8 L672.4 203.5" stroke="#5a6b5e" stroke-width="1" fill="none"/>
<path d="M660.9 198 H678.1 M660.9 339.5 H678.1" stroke="#555" stroke-width="1.2" fill="none"/>
<path d="M1022 114.8 V210" stroke="#667050" stroke-width="1" stroke-dasharray="6 4.5" fill="none"/>
<path d="M1019 114.8 L1022 110.1 L1025 114.8" stroke="#667050" stroke-width="1" fill="none"/>
<path d="M1012.5 109.3 H1031.75 M1012.5 209.5 H1031.75" stroke="#c9a34a" stroke-width="1.2" fill="none"/>
<path d="M165.5 499.5 V568 M256.75 499.5 V568" stroke="#5a5a5a" stroke-width="0.9" fill="none"/>
<path d="M166.5 533.75 H254.75" stroke="#777" stroke-width="1" stroke-dasharray="5 5" fill="none"/>
<path d="M251.75 530.75 L255.75 533.75 L251.75 536.75" stroke="#777" stroke-width="1" fill="none"/>
<path d="M510.5 339.5 V383 M601.5 339.5 V383" stroke="#5a5a5a" stroke-width="0.9" fill="none"/>
<path d="M511.5 361.25 H599.5" stroke="#777" stroke-width="1" stroke-dasharray="5 5" fill="none"/>
<path d="M596.5 358.25 L600.5 361.25 L596.5 364.25" stroke="#777" stroke-width="1" fill="none"/>
<path d="M855.5 210 V255.5 M951.5 210 V255.5" stroke="#5a5a5a" stroke-width="0.9" fill="none"/>
<path d="M856.5 232.5 H949.5" stroke="#777" stroke-width="1" stroke-dasharray="5 5" fill="none"/>
<path d="M946.5 229.5 L950.5 232.5 L946.5 235.5" stroke="#777" stroke-width="1" fill="none"/>
<path d="M73.5 657.01V677.93M75.25 640.48V657.85M85.75 656.01V667.33M87.5 649.31V659.04M89.25 651.1V654.41M91 647.84V652.69M92.75 645.08V649.35M94.5 637.42V645.77M96.25 630V637.55M98 612.5V633.04M99.75 599.86V615.06M101.5 596.15V599.91M105 602.89V607.82M108.5 600.97V608.88M117.25 595.33V612.42M119 560.41V598.67M120.75 533.42V562.67M122.5 527.22V541.97M124.25 520.9V531.63M126 513.86V521.14M127.75 476.42V522.38M129.5 473.28V485.37M131.25 457V483.97M134.75 482.21V490.26M138.25 485.76V500M147 501.4V508.69M148.75 498.09V506.65M155.75 521.47V526.47M169.75 552.21V562.31M173.25 555.6V564.62M175 547.96V556.15M176.75 544V553.6M178.5 537.96V549.03M180.25 532.98V538.96M182 527.54V540.74M183.75 517.54V533.21M190.75 528.24V536.83M196 530.27V532.42M199.5 532.92V544.73M201.25 530.82V538.73M206.5 528.97V535.36M211.75 533.48V538.77M213.5 529.44V535.37M220.5 528.39V536.3M224 517.27V532.46M225.75 519.42V528.87M229.25 515.64V525.81M231 508.22V515.8M232.75 506.66V516.81M234.5 493.93V507.14M239.75 486V507.88M243.25 497.85V505.27M245 497.02V502.05M246.75 493.56V502.68M248.5 492.9V498.17M250.25 488.86V496.88M255.5 495.36V507.29M259 502.13V508.24M260.75 495.1V505.81M262.5 492.76V502.65M264.25 487.47V499.31M271.25 496.57V505.69M273 492.43V496.66M276.5 488.29V495.78M278.25 480.33V492.9M281.75 464.1V488.73M285.25 459V474.61M287 451.39V464.49M288.75 447.54V454.18M290.5 442.29V448.84M292.25 429.13V443.44M294 419.62V429.84M295.75 410.67V422.28M297.5 390V414M301 397V437M304.5 405.15V405.78M306.25 397.61V411.7M309.75 401.5V406.94M311.5 398.38V407.84M315 406.9V410.9M320.25 413.21V426.5M323.75 413.18V418.21M327.25 408.18V415.93M329 400.49V411.42M334.25 404.56V406.79M336 401.58V406.22M337.75 393.23V402.07M343 397.91V411M344.75 397.15V400.02M346.5 394.35V404.23M348.25 382.48V395.43M350 375.56V383.84M351.75 362.73V382.03M353.5 343.93V363M355.25 323.68V349.25M357 310V326M360.5 318V351.8M364 320V338.5M365.75 317.4V323M369.25 319.87V327.22M374.5 326.64V331.22M381.5 339.37V346.31M383.25 332.19V341.4M390.25 348.21V359.2M392 345.1V355.15M395.5 349.48V352.63M399 343.39V356.54M400.75 335.56V345.03M402.5 334.63V339.89M406 336.71V340.43M407.75 334.33V342.07M413 332.48V338.56M416.5 335.59V336.66M423.5 340.57V348.22M428.75 344.86V348.83M435.75 356.96V364.14M437.5 355.85V363.62M441 361V364.65M442.75 353.69V363.75M444.5 346.9V355.33M448 354.46V357.42M451.5 355.82V360.14M465.5 375.23V384.56M467.25 371.08V376.81M469 368.58V372.59M472.5 364.65V369.57M474.25 364.68V368.19M476 362.6V368.79M483 378.05V378.67M484.75 375.14V378.23M488.25 371.18V379.64M490 372.41V376.7M495.25 374.63V375.88M498.75 367.13V378.5M500.5 369.58V371.11M502.25 367.64V370.87M504 363.59V369.61M505.75 362.8V363.67M509.25 366.62V368.22M519.75 377.9V378.07M521.5 372.27V378.14M523.25 373.36V377.57M525 370.6V373.4M526.75 367.33V375.42M528.5 365.76V373.51M532 359.14V366.11M533.75 345.5V364.73M537.25 360.95V364.04M539 353.34V364.54M540.75 351.4V355.37M542.5 346.96V354.9M544.25 343.23V350.52M553 353.25V358.97M556.5 354.01V357.47M558.25 350.01V355.62M561.75 344.64V355.43M572.25 349.83V353.11M574 347.26V351.82M577.5 347.89V355.85M579.25 344.31V350.72M581 346.65V348.13M584.5 339.19V349.94M586.25 338.95V339.95M588 335.25V340.92M589.75 326.3V335.41M593.25 333.22V338.83M596.75 329.55V335.41M600.25 335.1V336.69M605.5 331.58V339.66M610.75 338.17V344.7M612.5 335.74V340.2M614.25 331.63V341.26M617.75 332.01V340.71M619.5 331.2V338.15M621.25 329.96V338.61M623 329V336.02M624.75 328.1V332.08M626.5 327.14V330.73M630 326.89V327.48M633.5 325.42V331.17M635.25 322.43V329.49M637 321.4V323.59M638.75 316.87V325.51M642.25 312.34V324.25M645.75 313.44V318.94M649.25 318.03V319.27M651 313.83V319.6M652.75 307.39V318.81M658 313.59V320M663.25 306.06V317.39M665 303.43V310.8M666.75 301.64V309.77M668.5 299.75V307.12M670.25 297.43V304.95M672 289.66V297.74M673.75 283.97V295.08M675.5 279.81V284.21M677.25 271.54V281.29M679 270.07V276.68M689.5 276.64V284.05M691.25 270.04V285.21M693 264.3V272.34M694.75 262.32V266.7M696.5 254.77V265.33M700 253.54V258.77M705.25 255.66V262.79M707 256.07V257.42M708.75 250.68V260.21M710.5 245.75V251.27M712.25 244.53V250.75M714 235.48V244.59M715.75 232.38V241.43M719.25 238.19V243.19M721 224.04V243.02M722.75 218.52V228.04M724.5 201.75V223.84M726.25 195V206.82M729.75 198.22V209.41M742 218.15V230.16M747.25 214.53V221.6M754.25 228.48V236.99M756 230.07V235.89M757.75 224.17V231.71M759.5 222.76V229.69M763 226.32V228.34M768.25 232.65V237.1M777 240.22V246.25M778.75 237.15V247.81M780.5 232.26V237.65M789.25 236.28V246.74M791 231.33V238.59M796.25 232.19V240.26M801.5 235.08V244.92M805 235.22V240.08M808.5 236.17V245.68M817.25 257.95V268.68M819 256.22V263.39M824.25 260.96V265.92M827.75 263.05V269.74" stroke="#26a69a" stroke-width="0.9" fill="none" stroke-opacity="0.75"/>
<path d="M77 626.9V641.93M78.75 640.99V673.7M80.5 649.93V654.83M82.25 654.43V655.52M84 651.93V671M103.25 597.67V606.13M106.75 602.88V606.2M110.25 603.42V608.21M112 608.05V611.81M113.75 607.85V611.5M115.5 607.97V621.2M133 468.5V484.52M136.5 483.21V490.44M140 483.54V499.66M141.75 492.72V496.58M143.5 487.82V495.86M145.25 492.65V524.9M150.5 499.64V507.52M152.25 502.16V515.36M154 513.08V538.7M157.5 523.33V536.41M159.25 532.49V539.46M161 534.81V547.49M162.75 540.03V568.3M164.5 540.99V549.15M166.25 542.67V568M168 553.63V562.73M171.5 548.94V571.01M185.5 520.61V525.29M187.25 520.58V529.51M189 526.32V535.41M192.5 523.95V531.83M194.25 524.62V534.49M197.75 527.82V538.11M203 533.16V535.09M204.75 532.34V536.29M208.25 526.17V533.85M210 533.77V537.31M215.25 531.99V538.44M217 532.36V535.85M218.75 527.86V537.65M222.25 526.22V529.62M227.5 518.71V522.04M236.25 497.8V499.6M238 494.78V506.5M241.5 498.87V506.6M252 486.74V495.05M253.75 489.43V501.17M257.25 495.34V503.33M266 488.58V493.04M267.75 492.08V499.76M269.5 496.97V499.79M274.75 489.15V496.14M280 481.2V487.78M283.5 469.75V470.1M299.25 370V432.7M302.75 395V430M308 399.93V409.61M313.25 398.29V408.44M316.75 406.94V413.44M318.5 406.48V416.52M322 408.91V417.74M325.5 412.49V419.83M330.75 403.55V406.07M332.5 402.34V409.24M339.5 395.21V407.47M341.25 402.43V403.37M358.75 311.4V328M362.25 321V352.2M367.5 317.58V325.93M371 316.35V331.62M372.75 325.42V330.5M376.25 326.17V342.78M378 332.71V349.7M379.75 339.48V350.2M385 336.25V347.76M386.75 342.44V350.75M388.5 346.8V358.4M393.75 344.34V351.45M397.25 348.27V356.11M404.25 335.27V341.77M409.5 331.44V338.02M411.25 333.89V338.38M414.75 332.34V336.84M418.25 336.43V341.33M420 338.47V340.36M421.75 338.43V346.71M425.25 344.58V347.95M427 344.67V352.05M430.5 344.72V354.83M432.25 354.49V356.77M434 356.12V366M439.25 355.49V366.14M446.25 353.43V357.41M449.75 354.35V358M453.25 354.79V361.93M455 359.8V364.35M456.75 359.23V366.78M458.5 366.75V374.26M460.25 370.35V389.5M462 373.14V376.07M463.75 371.22V381.11M470.75 367.96V370.25M477.75 364.09V371.25M479.5 368.9V376M481.25 373.12V380.68M486.5 373.12V380.8M491.75 372.51V375.34M493.5 372.42V375.92M497 372.77V376.25M507.5 358.88V368.45M511 362.14V369.08M512.75 367.23V381.7M514.5 371.4V373.71M516.25 373.71V376.28M518 374.06V381.59M530.25 363.66V366.08M535.5 356.21V362.52M546 347.37V352.98M547.75 346.25V353.82M549.5 346.18V355.25M551.25 350.35V357.23M554.75 352.23V360.89M560 350.84V355.16M563.5 344.33V353.72M565.25 348.5V355.97M567 350.65V355.11M568.75 351.96V355.4M570.5 351.06V355.05M575.75 350.15V355.13M582.75 346.66V350.99M591.5 329.59V340.5M595 331.72V334.89M598.5 329.26V341.01M602 335.37V338.13M603.75 336.67V343.18M607.25 333.77V340.02M609 338.98V341.93M616 335.67V337.47M628.25 326.89V327.45M631.75 325.01V327.16M640.5 315.71V327M644 316.05V317.15M647.5 316.03V319.83M654.5 307.96V316.19M656.25 308.83V314.3M659.75 313.2V321.1M661.5 315.25V317.87M680.75 268.39V280.95M682.5 275.78V280.61M684.25 276.56V280.16M686 275.96V286.92M687.75 281.08V291M698.25 250.92V259.86M701.75 254.38V266.57M703.5 260.52V270.5M717.5 235.41V244.58M728 196.93V213.96M731.5 200.66V211.32M733.25 201.82V216.25M735 211.32V219.14M736.75 212.14V224.33M738.5 216.82V229.38M740.25 226.93V243.6M743.75 212.61V223.82M745.5 216.4V226.21M749 216.43V227.04M750.75 224.86V237.97M752.5 231.33V241M761.25 224.35V228.09M764.75 226.77V233.47M766.5 229.79V236.62M770 230.68V236.74M771.75 234.87V241.29M773.5 240.08V244.8M775.25 242.78V245.56M782.25 227.93V236.77M784 234.49V240.62M785.75 237.35V240.54M787.5 240.1V244.72M792.75 232.09V241.23M794.5 234.33V243.13M798 233.67V242.13M799.75 238.64V245.9M803.25 236.53V240.42M806.75 237.41V243.24M810.25 238.36V251.65M812 250.37V263.67M813.75 259.72V265.08M815.5 260.84V272.57M820.75 254.34V263.77M822.5 260.6V270.22M826 261.78V266.52M829.5 263.72V265.12M831.25 263.34V266.36" stroke="#ef5350" stroke-width="0.9" fill="none" stroke-opacity="0.75"/>
<path d="M72.5 657.64h2v16.36h-2zM74.25 641.51h2v16.13h-2zM84.75 659h2v7.53h-2zM86.5 652.87h2v6.12h-2zM88.25 651.7h2v2h-2zM90 647.92h2v4.6h-2zM91.75 645.34h2v2.57h-2zM93.5 637.42h2v7.93h-2zM95.25 631.84h2v5.58h-2zM97 615.02h2v16.82h-2zM98.75 599.88h2v15.14h-2zM100.5 597.78h2v2.1h-2zM104 602.73h2v2h-2zM107.5 603.43h2v2h-2zM116.25 595.34h2v14.47h-2zM118 560.48h2v34.86h-2zM119.75 534.6h2v25.87h-2zM121.5 529.56h2v5.04h-2zM123.25 521h2v8.56h-2zM125 514.19h2v6.81h-2zM126.75 484.07h2v30.12h-2zM128.5 480.66h2v3.41h-2zM130.25 478.97h2v2h-2zM133.75 482.85h2v2h-2zM137.25 487.56h2v2h-2zM146 502.92h2v2.85h-2zM147.75 499.65h2v3.27h-2zM154.75 523.4h2v2.97h-2zM168.75 553.37h2v2h-2zM172.25 555.63h2v7.93h-2zM174 553.46h2v2.17h-2zM175.75 548.55h2v4.91h-2zM177.5 538.26h2v10.29h-2zM179.25 534.74h2v3.52h-2zM181 527.72h2v7.01h-2zM182.75 520.7h2v7.02h-2zM189.75 528.19h2v2h-2zM195 530.9h2v2h-2zM198.5 535.71h2v2.38h-2zM200.25 533.17h2v2.54h-2zM205.5 529.09h2v5.92h-2zM210.75 533.83h2v2.6h-2zM212.5 531.97h2v2h-2zM219.5 528.39h2v5.07h-2zM223 523.28h2v5.49h-2zM224.75 519.84h2v3.44h-2zM228.25 515.66h2v5.99h-2zM230 513.97h2v2h-2zM231.75 506.93h2v7.35h-2zM233.5 498.46h2v8.47h-2zM238.75 501.82h2v2h-2zM242.25 498.2h2v7h-2zM244 496.99h2v2h-2zM245.75 496.33h2v2h-2zM247.5 494.94h2v2h-2zM249.25 493.06h2v2h-2zM254.5 499.15h2v2.02h-2zM258 501.56h2v2h-2zM259.75 497.82h2v4.7h-2zM261.5 494.27h2v3.55h-2zM263.25 490.8h2v3.47h-2zM270.25 496.65h2v3.13h-2zM272 492.44h2v4.21h-2zM275.5 488.32h2v5.07h-2zM277.25 481.23h2v7.09h-2zM280.75 469.83h2v12.79h-2zM284.25 463.92h2v6.16h-2zM286 454.12h2v9.81h-2zM287.75 447.61h2v6.51h-2zM289.5 442.99h2v4.62h-2zM291.25 429.14h2v13.85h-2zM293 420.54h2v8.59h-2zM294.75 417.04h2v3.51h-2zM296.5 391.3h2v21.7h-2zM300 398.6h2v15.9h-2zM303.5 404.32h2v2h-2zM305.25 401.58h2v3.56h-2zM308.75 401.74h2v3.53h-2zM310.5 398.84h2v2.89h-2zM314 406.55h2v2h-2zM319.25 413.99h2v2h-2zM322.75 413.48h2v4.26h-2zM326.25 408.56h2v5.92h-2zM328 404.38h2v4.18h-2zM333.25 404.12h2v2h-2zM335 401.69h2v3.08h-2zM336.75 398.6h2v3.09h-2zM342 399.77h2v3.42h-2zM343.75 397.83h2v2h-2zM345.5 394.42h2v3.47h-2zM347.25 382.55h2v11.87h-2zM349 379.25h2v3.3h-2zM350.75 363h2v16.25h-2zM352.5 344.96h2v18.03h-2zM354.25 324.77h2v20.2h-2zM356 318.4h2v7.6h-2zM359.5 322.4h2v4.6h-2zM363 321.4h2v16.4h-2zM364.75 319.9h2v2h-2zM368.25 320.54h2v3.98h-2zM373.5 328.68h2v2h-2zM380.5 339.55h2v2.57h-2zM382.25 337.9h2v2h-2zM389.25 348.51h2v3.74h-2zM391 345.2h2v3.31h-2zM394.5 349.45h2v2h-2zM398 343.74h2v9.04h-2zM399.75 339.68h2v4.06h-2zM401.5 335.35h2v4.33h-2zM405 337.35h2v2h-2zM406.75 334.56h2v3.17h-2zM412 335.72h2v2.25h-2zM415.5 335.47h2v2h-2zM422.5 343.7h2v2h-2zM427.75 346.73h2v2.1h-2zM434.75 360h2v2h-2zM436.5 357.58h2v3.19h-2zM440 360.8h2v2h-2zM441.75 355h2v6.18h-2zM443.5 353.34h2v2h-2zM447 355.4h2v2h-2zM450.5 355.33h2v2h-2zM464.5 375.76h2v5.34h-2zM466.25 371.7h2v4.06h-2zM468 368.79h2v2.91h-2zM471.5 367.33h2v2h-2zM473.25 365.86h2v2h-2zM475 364.23h2v2h-2zM482 377.15h2v2h-2zM483.75 375.14h2v2.93h-2zM487.25 375.04h2v2.86h-2zM489 373.85h2v2h-2zM494.25 374.33h2v2h-2zM497.75 370.28h2v5.34h-2zM499.5 369.14h2v2h-2zM501.25 368.06h2v2h-2zM503 363.6h2v4.51h-2zM504.75 362.21h2v2h-2zM508.25 366.07h2v2h-2zM518.75 377.02h2v2h-2zM520.5 374.78h2v3.2h-2zM522.25 373.07h2v2h-2zM524 372.23h2v2h-2zM525.75 369.17h2v3.91h-2zM527.5 366.06h2v3.11h-2zM531 362.25h2v3.83h-2zM532.75 357.31h2v4.94h-2zM536.25 361.04h2v2h-2zM538 353.43h2v8.14h-2zM539.75 351.72h2v2h-2zM541.5 347.65h2v4.36h-2zM543.25 346.52h2v2h-2zM552 353.92h2v2.87h-2zM555.5 354.01h2v3.14h-2zM557.25 350.85h2v3.17h-2zM560.75 347.71h2v4.22h-2zM571.25 350.84h2v2.07h-2zM573 349.51h2v2h-2zM576.5 349.45h2v2.64h-2zM578.25 347.71h2v2h-2zM580 346.39h2v2h-2zM583.5 339.94h2v8.75h-2zM585.25 338.5h2v2h-2zM587 335.3h2v3.76h-2zM588.75 330.84h2v4.45h-2zM592.25 332.74h2v2h-2zM595.75 332.38h2v2.19h-2zM599.25 335.04h2v2h-2zM604.5 335.44h2v4.2h-2zM609.75 339.26h2v2h-2zM611.5 336.67h2v3.41h-2zM613.25 335.32h2v2h-2zM616.75 335.35h2v2h-2zM618.5 333.95h2v2h-2zM620.25 331.91h2v2.18h-2zM622 330.78h2v2h-2zM623.75 329.95h2v2h-2zM625.5 327.2h2v3.04h-2zM629 326.27h2v2h-2zM632.5 325.29h2v2h-2zM634.25 322.65h2v2.77h-2zM636 321.07h2v2h-2zM637.75 316.91h2v4.58h-2zM641.25 316.34h2v6.57h-2zM644.75 315.79h2v2h-2zM648.25 317.5h2v2h-2zM650 314h2v4.18h-2zM651.75 307.98h2v6.01h-2zM657 313.01h2v2h-2zM662.25 310.8h2v6.57h-2zM664 308.94h2v2h-2zM665.75 305.48h2v3.6h-2zM667.5 303.66h2v2h-2zM669.25 297.63h2v6.2h-2zM671 291.58h2v6.05h-2zM672.75 284.16h2v7.42h-2zM674.5 279.84h2v4.32h-2zM676.25 273.73h2v6.11h-2zM678 272h2v2h-2zM688.5 281.13h2v2.5h-2zM690.25 270.25h2v10.88h-2zM692 265.11h2v5.14h-2zM693.75 262.32h2v2.79h-2zM695.5 254.85h2v7.47h-2zM699 253.92h2v2h-2zM704.25 257.36h2v5.42h-2zM706 255.82h2v2h-2zM707.75 251.05h2v5.22h-2zM709.5 248.63h2v2.42h-2zM711.25 244.53h2v4.1h-2zM713 238.4h2v6.13h-2zM714.75 236.62h2v2h-2zM718.25 238.65h2v4.45h-2zM720 226.1h2v12.55h-2zM721.75 218.65h2v7.45h-2zM723.5 205.78h2v12.87h-2zM725.25 197.86h2v7.92h-2zM728.75 201.78h2v6.96h-2zM741 218.15h2v11.89h-2zM746.25 219.14h2v2.45h-2zM753.25 233.81h2v2.69h-2zM755 230.15h2v3.66h-2zM756.75 228.86h2v2h-2zM758.5 224.44h2v5.12h-2zM762 226.4h2v2h-2zM767.25 232.51h2v2h-2zM776 242.05h2v2.77h-2zM777.75 237.63h2v4.43h-2zM779.5 232.41h2v5.21h-2zM788.25 237.01h2v7.05h-2zM790 235.16h2v2h-2zM795.25 237.13h2v3.03h-2zM800.5 238.57h2v2h-2zM804 237.94h2v2h-2zM807.5 239.62h2v2h-2zM816.25 263.37h2v5.05h-2zM818 256.22h2v7.15h-2zM823.25 262.44h2v2h-2zM826.75 263.11h2v2h-2z" fill="#26a69a" stroke="#26a69a" stroke-width="0.5"/>
<path d="M76 640.7h2v2h-2zM77.75 641.89h2v8.05h-2zM79.5 649.94h2v4.55h-2zM81.25 653.93h2v2h-2zM83 655.38h2v11.15h-2zM102.25 597.78h2v6.42h-2zM105.75 603.09h2v2h-2zM109.25 603.95h2v4.11h-2zM111 607.31h2v2h-2zM112.75 607.69h2v2h-2zM114.5 608.31h2v2h-2zM132 479.29h2v4.8h-2zM135.5 483.62h2v5.45h-2zM139 488.07h2v4.67h-2zM140.75 492.3h2v2h-2zM142.5 493.8h2v2h-2zM144.25 495.74h2v10.03h-2zM149.5 499.65h2v4.57h-2zM151.25 504.22h2v10.67h-2zM153 514.89h2v11.48h-2zM156.5 523.4h2v11.33h-2zM158.25 534.73h2v4.72h-2zM160 539.44h2v2.84h-2zM161.75 542.28h2v6.49h-2zM163.5 547.88h2v2h-2zM165.25 548.99h2v4.96h-2zM167 553.2h2v2h-2zM170.5 554.29h2v9.27h-2zM184.5 520.7h2v2.65h-2zM186.25 523.36h2v5.27h-2zM188 528.35h2v2h-2zM191.5 528.31h2v3.03h-2zM193.25 530.77h2v2h-2zM196.75 531.61h2v6.48h-2zM202 533.05h2v2h-2zM203.75 533.97h2v2h-2zM207.25 529.09h2v4.75h-2zM209 533.85h2v2.59h-2zM214.25 531.27h2v2h-2zM216 531.74h2v2h-2zM217.75 532.26h2v2h-2zM221.25 527.58h2v2h-2zM226.5 519.75h2v2h-2zM235.25 497.72h2v2h-2zM237 498.98h2v4.02h-2zM240.5 502.64h2v2.56h-2zM251 492.92h2v2h-2zM252.75 494.73h2v6.44h-2zM256.25 499.15h2v3.45h-2zM265 490.6h2v2h-2zM266.75 492.39h2v4.72h-2zM268.5 497.11h2v2.67h-2zM273.75 491.91h2v2h-2zM279 480.93h2v2h-2zM282.5 468.96h2v2h-2zM298.25 391.3h2v23.2h-2zM301.75 398.6h2v6.9h-2zM307 401.58h2v3.68h-2zM312.25 398.84h2v9.28h-2zM315.75 406.98h2v2.2h-2zM317.5 409.18h2v6.47h-2zM321 414.31h2v3.42h-2zM324.5 412.98h2v2h-2zM329.75 403.86h2v2h-2zM331.5 404.41h2v2h-2zM338.5 398.6h2v4h-2zM340.25 401.9h2v2h-2zM357.75 318h2v9h-2zM361.25 322.4h2v15.4h-2zM366.5 320.4h2v4.12h-2zM370 320.54h2v7.59h-2zM371.75 328.1h2v2h-2zM375.25 329.29h2v7.57h-2zM377 336.86h2v4.26h-2zM378.75 340.62h2v2h-2zM384 338.26h2v5.98h-2zM385.75 344.24h2v3.72h-2zM387.5 347.95h2v4.3h-2zM392.75 345.2h2v6.23h-2zM396.25 349.48h2v3.29h-2zM403.25 335.35h2v3.61h-2zM408.5 333.74h2v2h-2zM410.25 334.91h2v3.06h-2zM413.75 335.11h2v2h-2zM417.25 336.43h2v2.46h-2zM419 338.09h2v2h-2zM420.75 339.28h2v5.53h-2zM424.25 343.68h2v2h-2zM426 344.76h2v4.07h-2zM429.5 346.73h2v7.82h-2zM431.25 354.54h2v2.14h-2zM433 356.68h2v4.54h-2zM438.25 357.58h2v4.84h-2zM445.25 353.69h2v3.64h-2zM448.75 355.16h2v2h-2zM452.25 355.82h2v4.64h-2zM454 360.46h2v3.07h-2zM455.75 363.53h2v3.22h-2zM457.5 366.75h2v5.77h-2zM459.25 372.44h2v2h-2zM461 373.67h2v2h-2zM462.75 374.98h2v6.12h-2zM469.75 367.8h2v2h-2zM476.75 364.6h2v6.18h-2zM478.5 370.78h2v2.35h-2zM480.25 373.13h2v5.11h-2zM485.5 375.14h2v2.76h-2zM490.75 373.9h2v2h-2zM492.5 374.5h2v2h-2zM496 374.2h2v2h-2zM506.5 362.81h2v4.71h-2zM510 366.32h2v2h-2zM511.75 368.02h2v3.48h-2zM513.5 371.5h2v2.21h-2zM515.25 372.9h2v2h-2zM517 374.1h2v3.97h-2zM529.25 365.07h2v2h-2zM534.5 357.31h2v5.19h-2zM545 346.97h2v2h-2zM546.75 348.56h2v2.08h-2zM548.5 350.33h2v2h-2zM550.25 352.03h2v4.75h-2zM553.75 353.92h2v3.23h-2zM559 350.39h2v2h-2zM562.5 347.71h2v2.98h-2zM564.25 350.38h2v2h-2zM566 351.11h2v2h-2zM567.75 351.46h2v2h-2zM569.5 351.84h2v2h-2zM574.75 350.14h2v2h-2zM581.75 346.76h2v2h-2zM590.5 330.84h2v3.41h-2zM594 332.9h2v2h-2zM597.5 332.38h2v4.3h-2zM601 335.4h2v2.72h-2zM602.75 337.88h2v2h-2zM606.25 335.44h2v3.84h-2zM608 338.86h2v2h-2zM615 335.43h2v2h-2zM627.25 326.29h2v2h-2zM630.75 326.16h2v2h-2zM639.5 316.91h2v5.99h-2zM643 315.74h2v2h-2zM646.5 316.45h2v2.38h-2zM653.5 307.98h2v3.48h-2zM655.25 311.46h2v2.57h-2zM658.75 313.64h2v2h-2zM660.5 315.3h2v2.07h-2zM679.75 272.28h2v6.66h-2zM681.5 278.29h2v2h-2zM683.25 278.88h2v2h-2zM685 280.14h2v2.37h-2zM686.75 282.07h2v2h-2zM697.25 254.15h2v2h-2zM700.75 254.4h2v7.67h-2zM702.5 261.43h2v2h-2zM716.5 236.84h2v6.26h-2zM727 197.86h2v10.88h-2zM730.5 201.78h2v3.86h-2zM732.25 205.64h2v5.7h-2zM734 211.33h2v6.22h-2zM735.75 217.37h2v2h-2zM737.5 219.18h2v9.41h-2zM739.25 228.32h2v2h-2zM742.75 218.15h2v2.11h-2zM744.5 219.93h2v2h-2zM748 219.14h2v7.45h-2zM749.75 226.59h2v6.34h-2zM751.5 232.93h2v3.58h-2zM760.25 224.44h2v3.55h-2zM763.75 226.81h2v4.89h-2zM765.5 231.7h2v2.42h-2zM769 232.89h2v2.55h-2zM770.75 235.44h2v5.5h-2zM772.5 240.86h2v2h-2zM774.25 242.78h2v2.04h-2zM781.25 232.41h2v3.22h-2zM783 235.53h2v2h-2zM784.75 237.42h2v2.81h-2zM786.5 240.24h2v3.82h-2zM791.75 235.31h2v2.66h-2zM793.5 237.97h2v2.19h-2zM797 237.13h2v2.97h-2zM798.75 239.27h2v2h-2zM802.25 238.14h2v2h-2zM805.75 238.31h2v3.11h-2zM809.25 239.83h2v10.66h-2zM811 250.49h2v11.23h-2zM812.75 261.72h2v3.32h-2zM814.5 265.04h2v3.39h-2zM819.75 256.22h2v6.09h-2zM821.5 262.31h2v2.03h-2zM825 262.49h2v2h-2zM828.5 263.03h2v2h-2zM830.25 263.4h2v2h-2z" fill="#ef5350" stroke="#ef5350" stroke-width="0.5"/>
<path d="M7 264.2 H1252" stroke="#4fb1a8" stroke-width="1" stroke-dasharray="1.1 1.1" fill="none"/>
</g>
<rect x="221" y="287.3" width="189.5" height="20.5" rx="3.5" ry="3.5" fill="#f61d2c"/>
<text x="227.8" y="302.3" class="lb" textLength="176.2" lengthAdjust="spacingAndGlyphs">1024.40 (8990.67%) 102440</text>
<rect x="567.5" y="171.3" width="205" height="20.5" rx="3.5" ry="3.5" fill="#f61d2c"/>
<text x="574.3" y="186.3" class="lb" textLength="191.8" lengthAdjust="spacingAndGlyphs">17590.49 (3035.19%) 1759049</text>
<rect x="912.6" y="82" width="220.7" height="20.5" rx="3.5" ry="3.5" fill="#f61d2c"/>
<text x="919.3" y="97" class="lb" textLength="207.5" lengthAdjust="spacingAndGlyphs">144611.77 (1020.80%) 14461177</text>
<rect x="162" y="471.3" width="98.8" height="20.5" rx="3.5" ry="3.5" fill="#628ac6" fill-opacity="0.9"/>
<text x="170.5" y="486.3" class="lb" textLength="82" lengthAdjust="spacingAndGlyphs">52 bars, 364d</text>
<rect x="507" y="311.3" width="98.8" height="20.7" rx="3.5" ry="3.5" fill="#628ac6" fill-opacity="0.9"/>
<text x="515" y="326.3" class="lb" textLength="82.5" lengthAdjust="spacingAndGlyphs">52 bars, 364d</text>
<rect x="854.5" y="182.3" width="98.3" height="20.3" rx="3.5" ry="3.5" fill="#628ac6" fill-opacity="0.9"/>
<text x="862.5" y="197.3" class="lb" textLength="82.5" lengthAdjust="spacingAndGlyphs">55 bars, 385d</text>
<path d="M319.3 567.6 L261.84 513.9" stroke="#1111ee" stroke-width="3.6" stroke-linecap="butt" fill="none"/>
<path d="M282.68 520.16 L261.84 513.9 L271.07 531.9" stroke="#1111ee" stroke-width="6.2" stroke-linecap="round" stroke-linejoin="round" fill="none"/>
<path d="M683 388.2 L602.87 345.9" stroke="#1111ee" stroke-width="3.6" stroke-linecap="butt" fill="none"/>
<path d="M618.73 347.17 L602.87 345.9 L608.55 360.06" stroke="#1111ee" stroke-width="6.2" stroke-linecap="round" stroke-linejoin="round" fill="none"/>
<path d="M1022.5 284.5 L957.5 239.59" stroke="#1111ee" stroke-width="3.6" stroke-linecap="butt" fill="none"/>
<path d="M971.6 238.67 L957.5 239.59 L962.49 251.09" stroke="#1111ee" stroke-width="6.2" stroke-linecap="round" stroke-linejoin="round" fill="none"/>
<path d="M475.8 291.25 V347.2" stroke="#1111ee" stroke-width="3.3" fill="none"/>
<path d="M467 338.2 L475.8 347.5 L484.6 338.2" stroke="#1111ee" stroke-width="4.6" stroke-linecap="round" stroke-linejoin="round" fill="none"/>
<path d="M834.35 168.75 V243.7" stroke="#1111ee" stroke-width="3.3" fill="none"/>
<path d="M824.95 234.3 L834.35 244 L843.75 234.3" stroke="#1111ee" stroke-width="4.6" stroke-linecap="round" stroke-linejoin="round" fill="none"/>
<text x="416.2" y="285.5" class="an" textLength="142.9" lengthAdjust="spacingAndGlyphs">Accumulation!</text>
<text x="775.6" y="160.2" class="an" textLength="141.8" lengthAdjust="spacingAndGlyphs">Accumulation!</text>
<text x="188.3" y="586.4" class="an" textLength="63.2" lengthAdjust="spacingAndGlyphs">1 Year</text>
<text x="146.4" y="606" class="an" textLength="147.1" lengthAdjust="spacingAndGlyphs">Before Halving</text>
<text x="531.4" y="400.2" class="an" textLength="62.5" lengthAdjust="spacingAndGlyphs">1 Year</text>
<text x="489.2" y="418.8" class="an" textLength="147.4" lengthAdjust="spacingAndGlyphs">Before Halving</text>
<text x="877.9" y="274.4" class="an" textLength="61.5" lengthAdjust="spacingAndGlyphs">1 Year</text>
<text x="835" y="293.9" class="an" textLength="147.1" lengthAdjust="spacingAndGlyphs">Before Halving</text>
<text x="331.3" y="565.9" class="an" textLength="40.1" lengthAdjust="spacingAndGlyphs">BTC</text>
<text x="282.9" y="585.9" class="an" textLength="125.7" lengthAdjust="spacingAndGlyphs">First Halving</text>
<text x="698.5" y="389.5" class="an" textLength="39.8" lengthAdjust="spacingAndGlyphs">BTC</text>
<text x="629.2" y="409.3" class="an" textLength="154.9" lengthAdjust="spacingAndGlyphs">Second Halving</text>
<text x="1032.8" y="280.6" class="an" textLength="40.3" lengthAdjust="spacingAndGlyphs">BTC</text>
<text x="992.4" y="300.9" class="an" textLength="132.7" lengthAdjust="spacingAndGlyphs">Third Halving</text>
<text x="15.3" y="62" class="lg" textLength="279.8" lengthAdjust="spacingAndGlyphs" style="stroke:#5a5a5a;stroke-width:0.5px">BraveNewCoin Liquid Index for Bitcoin, 1W, BNC</text>
<text x="15.5" y="79" class="lg" textLength="42" lengthAdjust="spacingAndGlyphs">Vol (20)</text>
<text x="15.5" y="95.6" class="lg" textLength="85.5" lengthAdjust="spacingAndGlyphs">MA (200, close)</text>
<path d="M6.5 41 V701" stroke="#4d4d4d" stroke-width="1.2" fill="none"/>
<path d="M1327.3 41 V701" stroke="#4d4d4d" stroke-width="1.2" fill="none"/>
<path d="M6 41.3 H1328" stroke="#8a8a8a" stroke-width="1.8" fill="none"/>
<path d="M6 700.6 H1328" stroke="#909090" stroke-width="1.8" fill="none"/>
<path d="M1252.6 41 V701" stroke="#4d4d4d" stroke-width="1.2" fill="none"/>
<path d="M6 674.3 H1327.5" stroke="#4d4d4d" stroke-width="1.2" fill="none"/>
<defs><clipPath id="pax"><rect x="1253" y="42.2" width="74" height="632"/></clipPath></defs>
<g clip-path="url(#pax)">
<path d="M1253 42.3 H1256.6" stroke="#4d4d4d" stroke-width="1.1"/>
<text x="1261" y="46.4" class="ax">840000.00</text>
<path d="M1253 72.3 H1256.6" stroke="#4d4d4d" stroke-width="1.1"/>
<text x="1261" y="76.4" class="ax">400000.00</text>
<path d="M1253 100.8 H1256.6" stroke="#4d4d4d" stroke-width="1.1"/>
<text x="1261" y="104.9" class="ax">200000.00</text>
<path d="M1253 128.6 H1256.6" stroke="#4d4d4d" stroke-width="1.1"/>
<text x="1261" y="132.7" class="ax">100000.00</text>
<path d="M1253 157.2 H1256.6" stroke="#4d4d4d" stroke-width="1.1"/>
<text x="1261" y="161.3" class="ax">50000.00</text>
<path d="M1253 186.1 H1256.6" stroke="#4d4d4d" stroke-width="1.1"/>
<text x="1261" y="190.2" class="ax">25000.00</text>
<path d="M1253 218.1 H1256.6" stroke="#4d4d4d" stroke-width="1.1"/>
<text x="1261" y="222.2" class="ax">11000.00</text>
<path d="M1253 247.4 H1256.6" stroke="#4d4d4d" stroke-width="1.1"/>
<text x="1261" y="251.5" class="ax">5500.00</text>
<path d="M1253 275.6 H1256.6" stroke="#4d4d4d" stroke-width="1.1"/>
<text x="1261" y="279.7" class="ax">2750.00</text>
<path d="M1253 304 H1256.6" stroke="#4d4d4d" stroke-width="1.1"/>
<text x="1261" y="308.1" class="ax">1350.00</text>
<path d="M1253 334.2 H1256.6" stroke="#4d4d4d" stroke-width="1.1"/>
<text x="1261" y="338.3" class="ax">650.00</text>
<path d="M1253 361.9 H1256.6" stroke="#4d4d4d" stroke-width="1.1"/>
<text x="1261" y="366" class="ax">330.00</text>
<path d="M1253 394.4 H1256.6" stroke="#4d4d4d" stroke-width="1.1"/>
<text x="1261" y="398.5" class="ax">150.00</text>
<path d="M1253 425.2 H1256.6" stroke="#4d4d4d" stroke-width="1.1"/>
<text x="1261" y="429.3" class="ax">70.00</text>
<path d="M1253 454.8 H1256.6" stroke="#4d4d4d" stroke-width="1.1"/>
<text x="1261" y="458.9" class="ax">34.00</text>
<path d="M1253 485.3 H1256.6" stroke="#4d4d4d" stroke-width="1.1"/>
<text x="1261" y="489.4" class="ax">16.00</text>
<path d="M1253 513.8 H1256.6" stroke="#4d4d4d" stroke-width="1.1"/>
<text x="1261" y="517.9" class="ax">8.00</text>
<path d="M1253 542.5 H1256.6" stroke="#4d4d4d" stroke-width="1.1"/>
<text x="1261" y="546.6" class="ax">4.00</text>
<path d="M1253 570.2 H1256.6" stroke="#4d4d4d" stroke-width="1.1"/>
<text x="1261" y="574.3" class="ax">2.00</text>
<path d="M1253 599 H1256.6" stroke="#4d4d4d" stroke-width="1.1"/>
<text x="1261" y="603.1" class="ax">1.00</text>
<path d="M1253 626.7 H1256.6" stroke="#4d4d4d" stroke-width="1.1"/>
<text x="1261" y="630.8" class="ax">0.50</text>
<path d="M1253 657.2 H1256.6" stroke="#4d4d4d" stroke-width="1.1"/>
<text x="1261" y="661.3" class="ax">0.24</text>
</g>
<rect x="1252.2" y="256" width="56.2" height="16.6" fill="#2fa49a"/>
<path d="M1252.5 264.2 H1256.5" stroke="#e8ffff" stroke-width="1"/>
<text x="1261" y="268.4" class="ax b" textLength="38.5" lengthAdjust="spacingAndGlyphs" style="fill:#fff">3643.00</text>
<path d="M93.3 674.5 V678.2" stroke="#4d4d4d" stroke-width="1.1"/>
<text x="92.5" y="692.5" class="yr">2011</text>
<path d="M184.4 674.5 V678.2" stroke="#4d4d4d" stroke-width="1.1"/>
<text x="183.6" y="692.5" class="yr">2012</text>
<path d="M277 674.5 V678.2" stroke="#4d4d4d" stroke-width="1.1"/>
<text x="276.2" y="692.5" class="yr">2013</text>
<path d="M368 674.5 V678.2" stroke="#4d4d4d" stroke-width="1.1"/>
<text x="367.2" y="692.5" class="yr">2014</text>
<path d="M458.75 674.5 V678.2" stroke="#4d4d4d" stroke-width="1.1"/>
<text x="457.95" y="692.5" class="yr">2015</text>
<path d="M549.5 674.5 V678.2" stroke="#4d4d4d" stroke-width="1.1"/>
<text x="548.7" y="692.5" class="yr">2016</text>
<path d="M640.5 674.5 V678.2" stroke="#4d4d4d" stroke-width="1.1"/>
<text x="639.7" y="692.5" class="yr">2017</text>
<path d="M731.5 674.5 V678.2" stroke="#4d4d4d" stroke-width="1.1"/>
<text x="730.7" y="692.5" class="yr">2018</text>
<path d="M824.25 674.5 V678.2" stroke="#4d4d4d" stroke-width="1.1"/>
<text x="823.45" y="692.5" class="yr">2019</text>
<path d="M915.75 674.5 V678.2" stroke="#4d4d4d" stroke-width="1.1"/>
<text x="914.95" y="692.5" class="yr">2020</text>
<path d="M1006.5 674.5 V678.2" stroke="#4d4d4d" stroke-width="1.1"/>
<text x="1005.7" y="692.5" class="yr">2021</text>
<path d="M1097.25 674.5 V678.2" stroke="#4d4d4d" stroke-width="1.1"/>
<text x="1096.45" y="692.5" class="yr">2022</text>
<path d="M1188.25 674.5 V678.2" stroke="#4d4d4d" stroke-width="1.1"/>
<text x="1187.45" y="692.5" class="yr">2023</text>
</svg></body></html>
